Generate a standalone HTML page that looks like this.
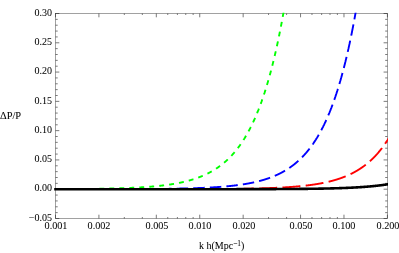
<!DOCTYPE html>
<html><head><meta charset="utf-8"><style>
html,body{margin:0;padding:0;background:#fff;}
body{width:399px;height:253px;position:relative;overflow:hidden;font-family:"Liberation Serif",serif;font-size:10.2px;color:#000;}
.yl{font-size:10px;position:absolute;right:347px;width:40px;text-align:right;height:14px;line-height:14px;white-space:nowrap;}
.xl{position:absolute;top:218.8px;font-size:10.2px;width:40px;text-align:center;height:14px;line-height:14px;}
.t{position:absolute;white-space:nowrap;line-height:14px;height:14px;}
.yl,.xl,.t{will-change:transform;transform:rotate(0.03deg);-webkit-text-stroke:0.05px #000;}
sup{font-size:7.4px;line-height:0;vertical-align:3.4px;}
#w{position:absolute;left:0;top:0;width:399px;height:253px;overflow:hidden;}
</style></head><body><div id="w">
<svg width="399" height="253" viewBox="0 0 399 253" style="position:absolute;left:0;top:0">
<defs><clipPath id="c"><rect x="40" y="12.7" width="348.0" height="206.4"/></clipPath></defs>
<rect x="55.5" y="13.5" width="331.9" height="205.0" fill="none" stroke="#444" stroke-width="0.5"/>
<path d="M55.5,218.50h3.8 M387.4,218.50h-3.8 M55.5,189.21h3.8 M387.4,189.21h-3.8 M55.5,159.93h3.8 M387.4,159.93h-3.8 M55.5,130.64h3.8 M387.4,130.64h-3.8 M55.5,101.36h3.8 M387.4,101.36h-3.8 M55.5,72.07h3.8 M387.4,72.07h-3.8 M55.5,42.79h3.8 M387.4,42.79h-3.8 M55.5,13.50h3.8 M387.4,13.50h-3.8 M55.5,212.64h2.2 M387.4,212.64h-2.2 M55.5,206.79h2.2 M387.4,206.79h-2.2 M55.5,200.93h2.2 M387.4,200.93h-2.2 M55.5,195.07h2.2 M387.4,195.07h-2.2 M55.5,183.36h2.2 M387.4,183.36h-2.2 M55.5,177.50h2.2 M387.4,177.50h-2.2 M55.5,171.64h2.2 M387.4,171.64h-2.2 M55.5,165.79h2.2 M387.4,165.79h-2.2 M55.5,154.07h2.2 M387.4,154.07h-2.2 M55.5,148.21h2.2 M387.4,148.21h-2.2 M55.5,142.36h2.2 M387.4,142.36h-2.2 M55.5,136.50h2.2 M387.4,136.50h-2.2 M55.5,124.79h2.2 M387.4,124.79h-2.2 M55.5,118.93h2.2 M387.4,118.93h-2.2 M55.5,113.07h2.2 M387.4,113.07h-2.2 M55.5,107.21h2.2 M387.4,107.21h-2.2 M55.5,95.50h2.2 M387.4,95.50h-2.2 M55.5,89.64h2.2 M387.4,89.64h-2.2 M55.5,83.79h2.2 M387.4,83.79h-2.2 M55.5,77.93h2.2 M387.4,77.93h-2.2 M55.5,66.21h2.2 M387.4,66.21h-2.2 M55.5,60.36h2.2 M387.4,60.36h-2.2 M55.5,54.50h2.2 M387.4,54.50h-2.2 M55.5,48.64h2.2 M387.4,48.64h-2.2 M55.5,36.93h2.2 M387.4,36.93h-2.2 M55.5,31.07h2.2 M387.4,31.07h-2.2 M55.5,25.21h2.2 M387.4,25.21h-2.2 M55.5,19.36h2.2 M387.4,19.36h-2.2 M55.50,218.5v-3.8 M55.50,13.5v3.8 M98.92,218.5v-3.8 M98.92,13.5v3.8 M156.32,218.5v-3.8 M156.32,13.5v3.8 M199.74,218.5v-3.8 M199.74,13.5v3.8 M243.16,218.5v-3.8 M243.16,13.5v3.8 M300.56,218.5v-3.8 M300.56,13.5v3.8 M343.98,218.5v-3.8 M343.98,13.5v3.8 M387.40,218.5v-3.8 M387.40,13.5v3.8 M124.32,218.5v-1.5 M124.32,13.5v1.5 M142.34,218.5v-1.5 M142.34,13.5v1.5 M167.74,218.5v-1.5 M167.74,13.5v1.5 M177.40,218.5v-1.5 M177.40,13.5v1.5 M185.76,218.5v-1.5 M185.76,13.5v1.5 M193.14,218.5v-1.5 M193.14,13.5v1.5 M268.56,218.5v-1.5 M268.56,13.5v1.5 M286.58,218.5v-1.5 M286.58,13.5v1.5 M311.98,218.5v-1.5 M311.98,13.5v1.5 M321.64,218.5v-1.5 M321.64,13.5v1.5 M330.00,218.5v-1.5 M330.00,13.5v1.5 M337.38,218.5v-1.5 M337.38,13.5v1.5" stroke="#222" stroke-width="0.6" fill="none"/>
<g clip-path="url(#c)" fill="none">
<path d="M96.38,188.76 L96.50,188.76 L96.61,188.76 L96.72,188.76 L96.83,188.76 L96.94,188.76 L97.05,188.76 L97.16,188.75 L97.27,188.75 L97.38,188.75 L97.50,188.75 L97.61,188.75 L97.72,188.75 L97.83,188.74 L97.94,188.74 L98.05,188.74 L98.16,188.74 L98.27,188.74 L98.38,188.74 L98.49,188.73 L98.61,188.73 L98.72,188.73 L98.83,188.73 L98.94,188.73 L99.05,188.72 L99.16,188.72 L99.27,188.72 L99.38,188.72 L99.49,188.72 L99.61,188.72 L99.72,188.71 L99.83,188.71 L99.94,188.71 L100.05,188.71 L100.16,188.71 L100.27,188.71 L100.38,188.70 L100.49,188.70 L100.61,188.70 L100.72,188.70 L100.83,188.70 L100.94,188.69 L101.05,188.69 L101.16,188.69 L101.27,188.69 L101.38,188.69 L101.49,188.69 L101.61,188.68 L101.72,188.68 L101.83,188.68 L101.94,188.68 L102.05,188.68 L102.16,188.67 L102.27,188.67 L102.38,188.67 L102.49,188.67 L102.61,188.67 L102.72,188.66 L102.83,188.66 L102.94,188.66 L103.05,188.66 L103.16,188.66 L103.27,188.65 L103.38,188.65 L103.49,188.65 L103.61,188.65 L103.72,188.65 L103.83,188.64 L103.94,188.64 L104.05,188.64 L104.16,188.64 L104.27,188.64 L104.38,188.63 L104.49,188.63 L104.61,188.63 L104.72,188.63 L104.83,188.63 L104.94,188.62 L105.05,188.62 L105.16,188.62 L105.27,188.62 L105.38,188.62 L105.49,188.61 L105.61,188.61 L105.72,188.61 L105.83,188.61 L105.94,188.60 L106.05,188.60 L106.16,188.60 L106.27,188.60 L106.38,188.60 L106.49,188.59 L106.61,188.59 L106.72,188.59 L106.83,188.59 L106.94,188.58 L107.05,188.58 L107.16,188.58 L107.27,188.58 L107.38,188.58 L107.49,188.57 L107.60,188.57 L107.72,188.57 L107.83,188.57 L107.94,188.56 L108.05,188.56 L108.16,188.56 L108.27,188.56 L108.38,188.56 L108.49,188.55 L108.60,188.55 L108.72,188.55 L108.83,188.55 L108.94,188.54 L109.05,188.54 L109.16,188.54 L109.27,188.54 L109.38,188.53 L109.49,188.53 L109.60,188.53 L109.72,188.53 L109.83,188.52 L109.94,188.52 L110.05,188.52 L110.16,188.52 L110.27,188.51 L110.38,188.51 L110.49,188.51 L110.60,188.51 L110.72,188.50 L110.83,188.50 L110.94,188.50 L111.05,188.50 L111.16,188.49 L111.27,188.49 L111.38,188.49 L111.49,188.49 L111.60,188.48 L111.72,188.48 L111.83,188.48 L111.94,188.48 L112.05,188.47 L112.16,188.47 L112.27,188.47 L112.38,188.47 L112.49,188.46 L112.60,188.46 L112.72,188.46 L112.83,188.45 L112.94,188.45 L113.05,188.45 L113.16,188.45 L113.27,188.44 L113.38,188.44 L113.49,188.44 L113.60,188.44 L113.72,188.43 L113.83,188.43 L113.94,188.43 L114.05,188.42 L114.16,188.42 L114.27,188.42 L114.38,188.42 L114.49,188.41 L114.60,188.41 L114.72,188.41 L114.83,188.40 L114.94,188.40 L115.05,188.40 L115.16,188.40 L115.27,188.39 L115.38,188.39 L115.49,188.39 L115.60,188.38 L115.72,188.38 L115.83,188.38 L115.94,188.38 L116.05,188.37 L116.16,188.37 L116.27,188.37 L116.38,188.36 L116.49,188.36 L116.60,188.36 L116.71,188.35 L116.83,188.35 L116.94,188.35 L117.05,188.34 L117.16,188.34 L117.27,188.34 L117.38,188.34 L117.49,188.33 L117.60,188.33 L117.71,188.33 L117.83,188.32 L117.94,188.32 L118.05,188.32 L118.16,188.31 L118.27,188.31 L118.38,188.31 L118.49,188.30 L118.60,188.30 L118.71,188.30 L118.83,188.29 L118.94,188.29 L119.05,188.29 L119.16,188.28 L119.27,188.28 L119.38,188.28 L119.49,188.27 L119.60,188.27 L119.71,188.27 L119.83,188.26 L119.94,188.26 L120.05,188.26 L120.16,188.25 L120.27,188.25 L120.38,188.25 L120.49,188.24 L120.60,188.24 L120.71,188.24 L120.83,188.23 L120.94,188.23 L121.05,188.23 L121.16,188.22 L121.27,188.22 L121.38,188.22 L121.49,188.21 L121.60,188.21 L121.71,188.21 L121.83,188.20 L121.94,188.20 L122.05,188.19 L122.16,188.19 L122.27,188.19 L122.38,188.18 L122.49,188.18 L122.60,188.18 L122.71,188.17 L122.83,188.17 L122.94,188.17 L123.05,188.16 L123.16,188.16 L123.27,188.15 L123.38,188.15 L123.49,188.15 L123.60,188.14 L123.71,188.14 L123.83,188.14 L123.94,188.13 L124.05,188.13 L124.16,188.12 L124.27,188.12 L124.38,188.12 L124.49,188.11 L124.60,188.11 L124.71,188.10 L124.83,188.10 L124.94,188.10 L125.05,188.09 L125.16,188.09 L125.27,188.08 L125.38,188.08 L125.49,188.08 L125.60,188.07 L125.71,188.07 L125.82,188.06 L125.94,188.06 L126.05,188.06 L126.16,188.05 L126.27,188.05 L126.38,188.04 L126.49,188.04 L126.60,188.03 L126.71,188.03 L126.82,188.03 L126.94,188.02 L127.05,188.02 L127.16,188.01 L127.27,188.01 L127.38,188.01 L127.49,188.00 L127.60,188.00 L127.71,187.99 L127.82,187.99 L127.94,187.98 L128.05,187.98 L128.16,187.97 L128.27,187.97 L128.38,187.97 L128.49,187.96 L128.60,187.96 L128.71,187.95 L128.82,187.95 L128.94,187.94 L129.05,187.94 L129.16,187.93 L129.27,187.93 L129.38,187.93 L129.49,187.92 L129.60,187.92 L129.71,187.91 L129.82,187.91 L129.94,187.90 L130.05,187.90 L130.16,187.89 L130.27,187.89 L130.38,187.88 L130.49,187.88 L130.60,187.87 L130.71,187.87 L130.82,187.86 L130.94,187.86 L131.05,187.86 L131.16,187.85 L131.27,187.85 L131.38,187.84 L131.49,187.84 L131.60,187.83 L131.71,187.83 L131.82,187.82 L131.94,187.82 L132.05,187.81 L132.16,187.81 L132.27,187.80 L132.38,187.80 L132.49,187.79 L132.60,187.79 L132.71,187.78 L132.82,187.78 L132.94,187.77 L133.05,187.77 L133.16,187.76 L133.27,187.76 L133.38,187.75 L133.49,187.74 L133.60,187.74 L133.71,187.73 L133.82,187.73 L133.94,187.72 L134.05,187.72 L134.16,187.71 L134.27,187.71 L134.38,187.70 L134.49,187.70 L134.60,187.69 L134.71,187.69 L134.82,187.68 L134.94,187.68 L135.05,187.67 L135.16,187.66 L135.27,187.66 L135.38,187.65 L135.49,187.65 L135.60,187.64 L135.71,187.64 L135.82,187.63 L135.93,187.63 L136.05,187.62 L136.16,187.61 L136.27,187.61 L136.38,187.60 L136.49,187.60 L136.60,187.59 L136.71,187.59 L136.82,187.58 L136.93,187.57 L137.05,187.57 L137.16,187.56 L137.27,187.56 L137.38,187.55 L137.49,187.54 L137.60,187.54 L137.71,187.53 L137.82,187.53 L137.93,187.52 L138.05,187.51 L138.16,187.51 L138.27,187.50 L138.38,187.50 L138.49,187.49 L138.60,187.48 L138.71,187.48 L138.82,187.47 L138.93,187.47 L139.05,187.46 L139.16,187.45 L139.27,187.45 L139.38,187.44 L139.49,187.43 L139.60,187.43 L139.71,187.42 L139.82,187.42 L139.93,187.41 L140.05,187.40 L140.16,187.40 L140.27,187.39 L140.38,187.38 L140.49,187.38 L140.60,187.37 L140.71,187.36 L140.82,187.36 L140.93,187.35 L141.05,187.34 L141.16,187.34 L141.27,187.33 L141.38,187.32 L141.49,187.32 L141.60,187.31 L141.71,187.30 L141.82,187.30 L141.93,187.29 L142.05,187.28 L142.16,187.28 L142.27,187.27 L142.38,187.26 L142.49,187.26 L142.60,187.25 L142.71,187.24 L142.82,187.23 L142.93,187.23 L143.05,187.22 L143.16,187.21 L143.27,187.21 L143.38,187.20 L143.49,187.19 L143.60,187.19 L143.71,187.18 L143.82,187.17 L143.93,187.16 L144.05,187.16 L144.16,187.15 L144.27,187.14 L144.38,187.13 L144.49,187.13 L144.60,187.12 L144.71,187.11 L144.82,187.10 L144.93,187.10 L145.04,187.09 L145.16,187.08 L145.27,187.07 L145.38,187.07 L145.49,187.06 L145.60,187.05 L145.71,187.04 L145.82,187.04 L145.93,187.03 L146.04,187.02 L146.16,187.01 L146.27,187.00 L146.38,187.00 L146.49,186.99 L146.60,186.98 L146.71,186.97 L146.82,186.97 L146.93,186.96 L147.04,186.95 L147.16,186.94 L147.27,186.93 L147.38,186.92 L147.49,186.92 L147.60,186.91 L147.71,186.90 L147.82,186.89 L147.93,186.88 L148.04,186.88 L148.16,186.87 L148.27,186.86 L148.38,186.85 L148.49,186.84 L148.60,186.83 L148.71,186.83 L148.82,186.82 L148.93,186.81 L149.04,186.80 L149.16,186.79 L149.27,186.78 L149.38,186.77 L149.49,186.77 L149.60,186.76 L149.71,186.75 L149.82,186.74 L149.93,186.73 L150.04,186.72 L150.16,186.71 L150.27,186.70 L150.38,186.69 L150.49,186.69 L150.60,186.68 L150.71,186.67 L150.82,186.66 L150.93,186.65 L151.04,186.64 L151.16,186.63 L151.27,186.62 L151.38,186.61 L151.49,186.60 L151.60,186.59 L151.71,186.59 L151.82,186.58 L151.93,186.57 L152.04,186.56 L152.16,186.55 L152.27,186.54 L152.38,186.53 L152.49,186.52 L152.60,186.51 L152.71,186.50 L152.82,186.49 L152.93,186.48 L153.04,186.47 L153.16,186.46 L153.27,186.45 L153.38,186.44 L153.49,186.43 L153.60,186.42 L153.71,186.41 L153.82,186.40 L153.93,186.39 L154.04,186.38 L154.15,186.37 L154.27,186.36 L154.38,186.35 L154.49,186.34 L154.60,186.33 L154.71,186.32 L154.82,186.31 L154.93,186.30 L155.04,186.29 L155.15,186.28 L155.27,186.27 L155.38,186.26 L155.49,186.25 L155.60,186.24 L155.71,186.23 L155.82,186.22 L155.93,186.21 L156.04,186.20 L156.15,186.18 L156.27,186.17 L156.38,186.16 L156.49,186.15 L156.60,186.14 L156.71,186.13 L156.82,186.12 L156.93,186.11 L157.04,186.10 L157.15,186.09 L157.27,186.08 L157.38,186.06 L157.49,186.05 L157.60,186.04 L157.71,186.03 L157.82,186.02 L157.93,186.01 L158.04,186.00 L158.15,185.98 L158.27,185.97 L158.38,185.96 L158.49,185.95 L158.60,185.94 L158.71,185.93 L158.82,185.92 L158.93,185.90 L159.04,185.89 L159.15,185.88 L159.27,185.87 L159.38,185.86 L159.49,185.84 L159.60,185.83 L159.71,185.82 L159.82,185.81 L159.93,185.80 L160.04,185.78 L160.15,185.77 L160.27,185.76 L160.38,185.75 L160.49,185.74 L160.60,185.72 L160.71,185.71 L160.82,185.70 L160.93,185.69 L161.04,185.67 L161.15,185.66 L161.27,185.65 L161.38,185.63 L161.49,185.62 L161.60,185.61 L161.71,185.60 L161.82,185.58 L161.93,185.57 L162.04,185.56 L162.15,185.54 L162.27,185.53 L162.38,185.52 L162.49,185.51 L162.60,185.49 L162.71,185.48 L162.82,185.47 L162.93,185.45 L163.04,185.44 L163.15,185.43 L163.27,185.41 L163.38,185.40 L163.49,185.39 L163.60,185.37 L163.71,185.36 L163.82,185.34 L163.93,185.33 L164.04,185.32 L164.15,185.30 L164.26,185.29 L164.38,185.28 L164.49,185.26 L164.60,185.25 L164.71,185.23 L164.82,185.22 L164.93,185.20 L165.04,185.19 L165.15,185.18 L165.26,185.16 L165.38,185.15 L165.49,185.13 L165.60,185.12 L165.71,185.10 L165.82,185.09 L165.93,185.07 L166.04,185.06 L166.15,185.05 L166.26,185.03 L166.38,185.02 L166.49,185.00 L166.60,184.99 L166.71,184.97 L166.82,184.96 L166.93,184.94 L167.04,184.93 L167.15,184.91 L167.26,184.89 L167.38,184.88 L167.49,184.86 L167.60,184.85 L167.71,184.83 L167.82,184.82 L167.93,184.80 L168.04,184.79 L168.15,184.77 L168.26,184.75 L168.38,184.74 L168.49,184.72 L168.60,184.71 L168.71,184.69 L168.82,184.67 L168.93,184.66 L169.04,184.64 L169.15,184.63 L169.26,184.61 L169.38,184.59 L169.49,184.58 L169.60,184.56 L169.71,184.54 L169.82,184.53 L169.93,184.51 L170.04,184.49 L170.15,184.48 L170.26,184.46 L170.38,184.44 L170.49,184.43 L170.60,184.41 L170.71,184.39 L170.82,184.38 L170.93,184.36 L171.04,184.34 L171.15,184.32 L171.26,184.31 L171.38,184.29 L171.49,184.27 L171.60,184.25 L171.71,184.24 L171.82,184.22 L171.93,184.20 L172.04,184.18 L172.15,184.16 L172.26,184.15 L172.38,184.13 L172.49,184.11 L172.60,184.09 L172.71,184.07 L172.82,184.06 L172.93,184.04 L173.04,184.02 L173.15,184.00 L173.26,183.98 L173.37,183.96 L173.49,183.95 L173.60,183.93 L173.71,183.91 L173.82,183.89 L173.93,183.87 L174.04,183.85 L174.15,183.83 L174.26,183.81 L174.37,183.79 L174.49,183.77 L174.60,183.76 L174.71,183.74 L174.82,183.72 L174.93,183.70 L175.04,183.68 L175.15,183.66 L175.26,183.64 L175.37,183.62 L175.49,183.60 L175.60,183.58 L175.71,183.56 L175.82,183.54 L175.93,183.52 L176.04,183.50 L176.15,183.48 L176.26,183.46 L176.37,183.44 L176.49,183.42 L176.60,183.40 L176.71,183.37 L176.82,183.35 L176.93,183.33 L177.04,183.31 L177.15,183.29 L177.26,183.27 L177.37,183.25 L177.49,183.23 L177.60,183.21 L177.71,183.19 L177.82,183.16 L177.93,183.14 L178.04,183.12 L178.15,183.10 L178.26,183.08 L178.37,183.06 L178.49,183.03 L178.60,183.01 L178.71,182.99 L178.82,182.97 L178.93,182.95 L179.04,182.92 L179.15,182.90 L179.26,182.88 L179.37,182.86 L179.49,182.83 L179.60,182.81 L179.71,182.79 L179.82,182.76 L179.93,182.74 L180.04,182.72 L180.15,182.70 L180.26,182.67 L180.37,182.65 L180.49,182.63 L180.60,182.60 L180.71,182.58 L180.82,182.56 L180.93,182.53 L181.04,182.51 L181.15,182.48 L181.26,182.46 L181.37,182.44 L181.49,182.41 L181.60,182.39 L181.71,182.36 L181.82,182.34 L181.93,182.32 L182.04,182.29 L182.15,182.27 L182.26,182.24 L182.37,182.22 L182.48,182.19 L182.60,182.17 L182.71,182.14 L182.82,182.12 L182.93,182.09 L183.04,182.07 L183.15,182.04 L183.26,182.02 L183.37,181.99 L183.48,181.96 L183.60,181.94 L183.71,181.91 L183.82,181.89 L183.93,181.86 L184.04,181.83 L184.15,181.81 L184.26,181.78 L184.37,181.76 L184.48,181.73 L184.60,181.70 L184.71,181.68 L184.82,181.65 L184.93,181.62 L185.04,181.59 L185.15,181.57 L185.26,181.54 L185.37,181.51 L185.48,181.49 L185.60,181.46 L185.71,181.43 L185.82,181.40 L185.93,181.38 L186.04,181.35 L186.15,181.32 L186.26,181.29 L186.37,181.26 L186.48,181.24 L186.60,181.21 L186.71,181.18 L186.82,181.15 L186.93,181.12 L187.04,181.09 L187.15,181.06 L187.26,181.03 L187.37,181.01 L187.48,180.98 L187.60,180.95 L187.71,180.92 L187.82,180.89 L187.93,180.86 L188.04,180.83 L188.15,180.80 L188.26,180.77 L188.37,180.74 L188.48,180.71 L188.60,180.68 L188.71,180.65 L188.82,180.62 L188.93,180.59 L189.04,180.56 L189.15,180.53 L189.26,180.50 L189.37,180.46 L189.48,180.43 L189.60,180.40 L189.71,180.37 L189.82,180.34 L189.93,180.31 L190.04,180.28 L190.15,180.24 L190.26,180.21 L190.37,180.18 L190.48,180.15 L190.60,180.12 L190.71,180.08 L190.82,180.05 L190.93,180.02 L191.04,179.99 L191.15,179.95 L191.26,179.92 L191.37,179.89 L191.48,179.85 L191.59,179.82 L191.71,179.79 L191.82,179.75 L191.93,179.72 L192.04,179.69 L192.15,179.65 L192.26,179.62 L192.37,179.58 L192.48,179.55 L192.59,179.52 L192.71,179.48 L192.82,179.45 L192.93,179.41 L193.04,179.38 L193.15,179.34 L193.26,179.31 L193.37,179.27 L193.48,179.24 L193.59,179.20 L193.71,179.17 L193.82,179.13 L193.93,179.09 L194.04,179.06 L194.15,179.02 L194.26,178.99 L194.37,178.95 L194.48,178.91 L194.59,178.88 L194.71,178.84 L194.82,178.80 L194.93,178.77 L195.04,178.73 L195.15,178.69 L195.26,178.65 L195.37,178.62 L195.48,178.58 L195.59,178.54 L195.71,178.50 L195.82,178.47 L195.93,178.43 L196.04,178.39 L196.15,178.35 L196.26,178.31 L196.37,178.27 L196.48,178.23 L196.59,178.20 L196.71,178.16 L196.82,178.12 L196.93,178.08 L197.04,178.04 L197.15,178.00 L197.26,177.96 L197.37,177.92 L197.48,177.88 L197.59,177.84 L197.71,177.80 L197.82,177.76 L197.93,177.72 L198.04,177.68 L198.15,177.63 L198.26,177.59 L198.37,177.55 L198.48,177.51 L198.59,177.47 L198.71,177.43 L198.82,177.39 L198.93,177.34 L199.04,177.30 L199.15,177.26 L199.26,177.22 L199.37,177.17 L199.48,177.13 L199.59,177.09 L199.71,177.04 L199.82,177.00 L199.93,176.96 L200.04,176.91 L200.15,176.87 L200.26,176.83 L200.37,176.78 L200.48,176.74 L200.59,176.69 L200.71,176.65 L200.82,176.61 L200.93,176.56 L201.04,176.52 L201.15,176.47 L201.26,176.43 L201.37,176.38 L201.48,176.33 L201.59,176.29 L201.70,176.24 L201.82,176.20 L201.93,176.15 L202.04,176.10 L202.15,176.06 L202.26,176.01 L202.37,175.96 L202.48,175.92 L202.59,175.87 L202.70,175.82 L202.82,175.77 L202.93,175.73 L203.04,175.68 L203.15,175.63 L203.26,175.58 L203.37,175.53 L203.48,175.49 L203.59,175.44 L203.70,175.39 L203.82,175.34 L203.93,175.29 L204.04,175.24 L204.15,175.19 L204.26,175.14 L204.37,175.09 L204.48,175.04 L204.59,174.99 L204.70,174.94 L204.82,174.89 L204.93,174.84 L205.04,174.79 L205.15,174.73 L205.26,174.68 L205.37,174.63 L205.48,174.58 L205.59,174.53 L205.70,174.48 L205.82,174.42 L205.93,174.37 L206.04,174.32 L206.15,174.27 L206.26,174.21 L206.37,174.16 L206.48,174.11 L206.59,174.05 L206.70,174.00 L206.82,173.94 L206.93,173.89 L207.04,173.83 L207.15,173.78 L207.26,173.73 L207.37,173.67 L207.48,173.62 L207.59,173.56 L207.70,173.50 L207.82,173.45 L207.93,173.39 L208.04,173.34 L208.15,173.28 L208.26,173.22 L208.37,173.17 L208.48,173.11 L208.59,173.05 L208.70,172.99 L208.82,172.94 L208.93,172.88 L209.04,172.82 L209.15,172.76 L209.26,172.70 L209.37,172.65 L209.48,172.59 L209.59,172.53 L209.70,172.47 L209.82,172.41 L209.93,172.35 L210.04,172.29 L210.15,172.23 L210.26,172.17 L210.37,172.11 L210.48,172.05 L210.59,171.99 L210.70,171.93 L210.81,171.86 L210.93,171.80 L211.04,171.74 L211.15,171.68 L211.26,171.62 L211.37,171.55 L211.48,171.49 L211.59,171.43 L211.70,171.36 L211.81,171.30 L211.93,171.24 L212.04,171.17 L212.15,171.11 L212.26,171.04 L212.37,170.98 L212.48,170.92 L212.59,170.85 L212.70,170.79 L212.81,170.72 L212.93,170.65 L213.04,170.59 L213.15,170.52 L213.26,170.46 L213.37,170.39 L213.48,170.32 L213.59,170.25 L213.70,170.19 L213.81,170.12 L213.93,170.05 L214.04,169.98 L214.15,169.92 L214.26,169.85 L214.37,169.78 L214.48,169.71 L214.59,169.64 L214.70,169.57 L214.81,169.50 L214.93,169.43 L215.04,169.36 L215.15,169.29 L215.26,169.22 L215.37,169.15 L215.48,169.08 L215.59,169.00 L215.70,168.93 L215.81,168.86 L215.93,168.79 L216.04,168.72 L216.15,168.64 L216.26,168.57 L216.37,168.50 L216.48,168.42 L216.59,168.35 L216.70,168.28 L216.81,168.20 L216.93,168.13 L217.04,168.05 L217.15,167.98 L217.26,167.90 L217.37,167.82 L217.48,167.75 L217.59,167.67 L217.70,167.60 L217.81,167.52 L217.93,167.44 L218.04,167.36 L218.15,167.29 L218.26,167.21 L218.37,167.13 L218.48,167.05 L218.59,166.97 L218.70,166.89 L218.81,166.82 L218.93,166.74 L219.04,166.66 L219.15,166.58 L219.26,166.50 L219.37,166.41 L219.48,166.33 L219.59,166.25 L219.70,166.17 L219.81,166.09 L219.92,166.01 L220.04,165.92 L220.15,165.84 L220.26,165.76 L220.37,165.67 L220.48,165.59 L220.59,165.51 L220.70,165.42 L220.81,165.34 L220.92,165.25 L221.04,165.17 L221.15,165.08 L221.26,165.00 L221.37,164.91 L221.48,164.82 L221.59,164.74 L221.70,164.65 L221.81,164.56 L221.92,164.48 L222.04,164.39 L222.15,164.30 L222.26,164.21 L222.37,164.12 L222.48,164.03 L222.59,163.94 L222.70,163.85 L222.81,163.76 L222.92,163.67 L223.04,163.58 L223.15,163.49 L223.26,163.40 L223.37,163.31 L223.48,163.22 L223.59,163.12 L223.70,163.03 L223.81,162.94 L223.92,162.85 L224.04,162.75 L224.15,162.66 L224.26,162.56 L224.37,162.47 L224.48,162.37 L224.59,162.28 L224.70,162.18 L224.81,162.09 L224.92,161.99 L225.04,161.89 L225.15,161.80 L225.26,161.70 L225.37,161.60 L225.48,161.50 L225.59,161.40 L225.70,161.31 L225.81,161.21 L225.92,161.11 L226.04,161.01 L226.15,160.91 L226.26,160.81 L226.37,160.71 L226.48,160.60 L226.59,160.50 L226.70,160.40 L226.81,160.30 L226.92,160.20 L227.04,160.09 L227.15,159.99 L227.26,159.88 L227.37,159.78 L227.48,159.68 L227.59,159.57 L227.70,159.47 L227.81,159.36 L227.92,159.25 L228.04,159.15 L228.15,159.04 L228.26,158.93 L228.37,158.83 L228.48,158.72 L228.59,158.61 L228.70,158.50 L228.81,158.39 L228.92,158.28 L229.03,158.17 L229.15,158.06 L229.26,157.95 L229.37,157.84 L229.48,157.73 L229.59,157.62 L229.70,157.50 L229.81,157.39 L229.92,157.28 L230.03,157.17 L230.15,157.05 L230.26,156.94 L230.37,156.82 L230.48,156.71 L230.59,156.59 L230.70,156.48 L230.81,156.36 L230.92,156.24 L231.03,156.13 L231.15,156.01 L231.26,155.89 L231.37,155.77 L231.48,155.65 L231.59,155.53 L231.70,155.41 L231.81,155.29 L231.92,155.17 L232.03,155.05 L232.15,154.93 L232.26,154.81 L232.37,154.69 L232.48,154.56 L232.59,154.44 L232.70,154.32 L232.81,154.19 L232.92,154.07 L233.03,153.94 L233.15,153.82 L233.26,153.69 L233.37,153.57 L233.48,153.44 L233.59,153.31 L233.70,153.19 L233.81,153.06 L233.92,152.93 L234.03,152.80 L234.15,152.67 L234.26,152.54 L234.37,152.41 L234.48,152.28 L234.59,152.15 L234.70,152.02 L234.81,151.88 L234.92,151.75 L235.03,151.62 L235.15,151.49 L235.26,151.35 L235.37,151.22 L235.48,151.08 L235.59,150.95 L235.70,150.81 L235.81,150.67 L235.92,150.54 L236.03,150.40 L236.15,150.26 L236.26,150.12 L236.37,149.98 L236.48,149.84 L236.59,149.70 L236.70,149.56 L236.81,149.42 L236.92,149.28 L237.03,149.14 L237.15,149.00 L237.26,148.85 L237.37,148.71 L237.48,148.57 L237.59,148.42 L237.70,148.28 L237.81,148.13 L237.92,147.99 L238.03,147.84 L238.15,147.69 L238.26,147.55 L238.37,147.40 L238.48,147.25 L238.59,147.10 L238.70,146.95 L238.81,146.80 L238.92,146.65 L239.03,146.50 L239.14,146.35 L239.26,146.19 L239.37,146.04 L239.48,145.89 L239.59,145.73 L239.70,145.58 L239.81,145.42 L239.92,145.27 L240.03,145.11 L240.14,144.96 L240.26,144.80 L240.37,144.64 L240.48,144.48 L240.59,144.32 L240.70,144.16 L240.81,144.00 L240.92,143.84 L241.03,143.68 L241.14,143.52 L241.26,143.36 L241.37,143.19 L241.48,143.03 L241.59,142.87 L241.70,142.70 L241.81,142.54 L241.92,142.37 L242.03,142.20 L242.14,142.04 L242.26,141.87 L242.37,141.70 L242.48,141.53 L242.59,141.36 L242.70,141.19 L242.81,141.02 L242.92,140.85 L243.03,140.68 L243.14,140.51 L243.26,140.33 L243.37,140.16 L243.48,139.99 L243.59,139.81 L243.70,139.64 L243.81,139.46 L243.92,139.28 L244.03,139.11 L244.14,138.93 L244.26,138.75 L244.37,138.57 L244.48,138.39 L244.59,138.21 L244.70,138.03 L244.81,137.85 L244.92,137.66 L245.03,137.48 L245.14,137.30 L245.26,137.11 L245.37,136.93 L245.48,136.74 L245.59,136.55 L245.70,136.37 L245.81,136.18 L245.92,135.99 L246.03,135.80 L246.14,135.61 L246.26,135.42 L246.37,135.23 L246.48,135.04 L246.59,134.85 L246.70,134.65 L246.81,134.46 L246.92,134.26 L247.03,134.07 L247.14,133.87 L247.26,133.68 L247.37,133.48 L247.48,133.28 L247.59,133.08 L247.70,132.88 L247.81,132.68 L247.92,132.48 L248.03,132.28 L248.14,132.08 L248.25,131.88 L248.37,131.67 L248.48,131.47 L248.59,131.26 L248.70,131.06 L248.81,130.85 L248.92,130.64 L249.03,130.43 L249.14,130.22 L249.25,130.02 L249.37,129.80 L249.48,129.59 L249.59,129.38 L249.70,129.17 L249.81,128.96 L249.92,128.74 L250.03,128.53 L250.14,128.31 L250.25,128.09 L250.37,127.88 L250.48,127.66 L250.59,127.44 L250.70,127.22 L250.81,127.00 L250.92,126.78 L251.03,126.56 L251.14,126.34 L251.25,126.11 L251.37,125.89 L251.48,125.66 L251.59,125.44 L251.70,125.21 L251.81,124.98 L251.92,124.75 L252.03,124.53 L252.14,124.30 L252.25,124.07 L252.37,123.83 L252.48,123.60 L252.59,123.37 L252.70,123.13 L252.81,122.90 L252.92,122.66 L253.03,122.43 L253.14,122.19 L253.25,121.95 L253.37,121.71 L253.48,121.47 L253.59,121.23 L253.70,120.99 L253.81,120.75 L253.92,120.51 L254.03,120.26 L254.14,120.02 L254.25,119.77 L254.37,119.52 L254.48,119.28 L254.59,119.03 L254.70,118.78 L254.81,118.53 L254.92,118.28 L255.03,118.02 L255.14,117.77 L255.25,117.52 L255.37,117.26 L255.48,117.01 L255.59,116.75 L255.70,116.49 L255.81,116.23 L255.92,115.98 L256.03,115.71 L256.14,115.45 L256.25,115.19 L256.37,114.93 L256.48,114.66 L256.59,114.40 L256.70,114.13 L256.81,113.87 L256.92,113.60 L257.03,113.33 L257.14,113.06 L257.25,112.79 L257.36,112.52 L257.48,112.25 L257.59,111.97 L257.70,111.70 L257.81,111.42 L257.92,111.15 L258.03,110.87 L258.14,110.59 L258.25,110.31 L258.36,110.03 L258.48,109.75 L258.59,109.47 L258.70,109.18 L258.81,108.90 L258.92,108.61 L259.03,108.33 L259.14,108.04 L259.25,107.75 L259.36,107.46 L259.48,107.17 L259.59,106.88 L259.70,106.59 L259.81,106.29 L259.92,106.00 L260.03,105.70 L260.14,105.41 L260.25,105.11 L260.36,104.81 L260.48,104.51 L260.59,104.21 L260.70,103.91 L260.81,103.60 L260.92,103.30 L261.03,103.00 L261.14,102.69 L261.25,102.38 L261.36,102.07 L261.48,101.76 L261.59,101.45 L261.70,101.14 L261.81,100.83 L261.92,100.51 L262.03,100.20 L262.14,99.88 L262.25,99.56 L262.36,99.25 L262.48,98.93 L262.59,98.61 L262.70,98.28 L262.81,97.96 L262.92,97.64 L263.03,97.31 L263.14,96.98 L263.25,96.66 L263.36,96.33 L263.48,96.00 L263.59,95.67 L263.70,95.33 L263.81,95.00 L263.92,94.67 L264.03,94.33 L264.14,93.99 L264.25,93.65 L264.36,93.31 L264.48,92.97 L264.59,92.63 L264.70,92.29 L264.81,91.94 L264.92,91.60 L265.03,91.25 L265.14,90.90 L265.25,90.55 L265.36,90.20 L265.48,89.85 L265.59,89.50 L265.70,89.14 L265.81,88.79 L265.92,88.43 L266.03,88.07 L266.14,87.71 L266.25,87.35 L266.36,86.99 L266.47,86.63 L266.59,86.26 L266.70,85.90 L266.81,85.53 L266.92,85.16 L267.03,84.79 L267.14,84.42 L267.25,84.05 L267.36,83.68 L267.47,83.30 L267.59,82.92 L267.70,82.55 L267.81,82.17 L267.92,81.79 L268.03,81.41 L268.14,81.02 L268.25,80.64 L268.36,80.25 L268.47,79.87 L268.59,79.48 L268.70,79.09 L268.81,78.70 L268.92,78.30 L269.03,77.91 L269.14,77.51 L269.25,77.12 L269.36,76.72 L269.47,76.32 L269.59,75.92 L269.70,75.51 L269.81,75.11 L269.92,74.70 L270.03,74.30 L270.14,73.89 L270.25,73.48 L270.36,73.07 L270.47,72.66 L270.59,72.24 L270.70,71.83 L270.81,71.41 L270.92,70.99 L271.03,70.57 L271.14,70.15 L271.25,69.73 L271.36,69.30 L271.47,68.87 L271.59,68.45 L271.70,68.02 L271.81,67.59 L271.92,67.16 L272.03,66.72 L272.14,66.29 L272.25,65.85 L272.36,65.41 L272.47,64.97 L272.59,64.53 L272.70,64.09 L272.81,63.64 L272.92,63.20 L273.03,62.75 L273.14,62.30 L273.25,61.85 L273.36,61.40 L273.47,60.94 L273.59,60.49 L273.70,60.03 L273.81,59.57 L273.92,59.11 L274.03,58.65 L274.14,58.18 L274.25,57.72 L274.36,57.25 L274.47,56.78 L274.59,56.31 L274.70,55.84 L274.81,55.36 L274.92,54.89 L275.03,54.41 L275.14,53.93 L275.25,53.45 L275.36,52.97 L275.47,52.48 L275.59,52.00 L275.70,51.51 L275.81,51.02 L275.92,50.53 L276.03,50.04 L276.14,49.54 L276.25,49.05 L276.36,48.55 L276.47,48.05 L276.58,47.55 L276.70,47.04 L276.81,46.54 L276.92,46.03 L277.03,45.52 L277.14,45.01 L277.25,44.50 L277.36,43.99 L277.47,43.47 L277.58,42.95 L277.70,42.43 L277.81,41.91 L277.92,41.39 L278.03,40.86 L278.14,40.33 L278.25,39.81 L278.36,39.27 L278.47,38.74 L278.58,38.21 L278.70,37.67 L278.81,37.13 L278.92,36.59 L279.03,36.05 L279.14,35.51 L279.25,34.96 L279.36,34.41 L279.47,33.86 L279.58,33.31 L279.70,32.75 L279.81,32.20 L279.92,31.64 L280.03,31.08 L280.14,30.52 L280.25,29.96 L280.36,29.39 L280.47,28.82 L280.58,28.25 L280.70,27.68 L280.81,27.11 L280.92,26.53 L281.03,25.95 L281.14,25.37 L281.25,24.79 L281.36,24.20 L281.47,23.62 L281.58,23.03 L281.70,22.44 L281.81,21.85 L281.92,21.25 L282.03,20.66 L282.14,20.06 L282.25,19.46 L282.36,18.85 L282.47,18.25 L282.58,17.64 L282.70,17.03 L282.81,16.42 L282.92,15.80 L283.03,15.19 L283.14,14.57 L283.25,13.95 L283.36,13.33 L283.47,12.70 L283.58,12.07 L283.70,11.44 L283.81,10.81 L283.92,10.18 L284.03,9.54 L284.14,8.90 L284.25,8.26 L284.36,7.62" stroke="#00ff00" stroke-width="1.9" stroke-dasharray="4.9 5.1" stroke-dashoffset="7.00"/>
<path d="M168.82,188.76 L168.93,188.76 L169.04,188.76 L169.15,188.76 L169.26,188.75 L169.38,188.75 L169.49,188.75 L169.60,188.75 L169.71,188.75 L169.82,188.75 L169.93,188.74 L170.04,188.74 L170.15,188.74 L170.26,188.74 L170.38,188.74 L170.49,188.74 L170.60,188.73 L170.71,188.73 L170.82,188.73 L170.93,188.73 L171.04,188.73 L171.15,188.73 L171.26,188.72 L171.38,188.72 L171.49,188.72 L171.60,188.72 L171.71,188.72 L171.82,188.71 L171.93,188.71 L172.04,188.71 L172.15,188.71 L172.26,188.71 L172.38,188.71 L172.49,188.70 L172.60,188.70 L172.71,188.70 L172.82,188.70 L172.93,188.70 L173.04,188.69 L173.15,188.69 L173.26,188.69 L173.37,188.69 L173.49,188.69 L173.60,188.69 L173.71,188.68 L173.82,188.68 L173.93,188.68 L174.04,188.68 L174.15,188.68 L174.26,188.67 L174.37,188.67 L174.49,188.67 L174.60,188.67 L174.71,188.67 L174.82,188.66 L174.93,188.66 L175.04,188.66 L175.15,188.66 L175.26,188.66 L175.37,188.65 L175.49,188.65 L175.60,188.65 L175.71,188.65 L175.82,188.65 L175.93,188.64 L176.04,188.64 L176.15,188.64 L176.26,188.64 L176.37,188.64 L176.49,188.63 L176.60,188.63 L176.71,188.63 L176.82,188.63 L176.93,188.63 L177.04,188.62 L177.15,188.62 L177.26,188.62 L177.37,188.62 L177.49,188.62 L177.60,188.61 L177.71,188.61 L177.82,188.61 L177.93,188.61 L178.04,188.60 L178.15,188.60 L178.26,188.60 L178.37,188.60 L178.49,188.60 L178.60,188.59 L178.71,188.59 L178.82,188.59 L178.93,188.59 L179.04,188.59 L179.15,188.58 L179.26,188.58 L179.37,188.58 L179.49,188.58 L179.60,188.57 L179.71,188.57 L179.82,188.57 L179.93,188.57 L180.04,188.56 L180.15,188.56 L180.26,188.56 L180.37,188.56 L180.49,188.56 L180.60,188.55 L180.71,188.55 L180.82,188.55 L180.93,188.55 L181.04,188.54 L181.15,188.54 L181.26,188.54 L181.37,188.54 L181.49,188.53 L181.60,188.53 L181.71,188.53 L181.82,188.53 L181.93,188.52 L182.04,188.52 L182.15,188.52 L182.26,188.52 L182.37,188.51 L182.48,188.51 L182.60,188.51 L182.71,188.51 L182.82,188.50 L182.93,188.50 L183.04,188.50 L183.15,188.50 L183.26,188.49 L183.37,188.49 L183.48,188.49 L183.60,188.49 L183.71,188.48 L183.82,188.48 L183.93,188.48 L184.04,188.48 L184.15,188.47 L184.26,188.47 L184.37,188.47 L184.48,188.47 L184.60,188.46 L184.71,188.46 L184.82,188.46 L184.93,188.46 L185.04,188.45 L185.15,188.45 L185.26,188.45 L185.37,188.44 L185.48,188.44 L185.60,188.44 L185.71,188.44 L185.82,188.43 L185.93,188.43 L186.04,188.43 L186.15,188.42 L186.26,188.42 L186.37,188.42 L186.48,188.42 L186.60,188.41 L186.71,188.41 L186.82,188.41 L186.93,188.40 L187.04,188.40 L187.15,188.40 L187.26,188.40 L187.37,188.39 L187.48,188.39 L187.60,188.39 L187.71,188.38 L187.82,188.38 L187.93,188.38 L188.04,188.38 L188.15,188.37 L188.26,188.37 L188.37,188.37 L188.48,188.36 L188.60,188.36 L188.71,188.36 L188.82,188.35 L188.93,188.35 L189.04,188.35 L189.15,188.35 L189.26,188.34 L189.37,188.34 L189.48,188.34 L189.60,188.33 L189.71,188.33 L189.82,188.33 L189.93,188.32 L190.04,188.32 L190.15,188.32 L190.26,188.31 L190.37,188.31 L190.48,188.31 L190.60,188.30 L190.71,188.30 L190.82,188.30 L190.93,188.29 L191.04,188.29 L191.15,188.29 L191.26,188.28 L191.37,188.28 L191.48,188.28 L191.59,188.27 L191.71,188.27 L191.82,188.27 L191.93,188.26 L192.04,188.26 L192.15,188.26 L192.26,188.25 L192.37,188.25 L192.48,188.25 L192.59,188.24 L192.71,188.24 L192.82,188.24 L192.93,188.23 L193.04,188.23 L193.15,188.23 L193.26,188.22 L193.37,188.22 L193.48,188.22 L193.59,188.21 L193.71,188.21 L193.82,188.21 L193.93,188.20 L194.04,188.20 L194.15,188.20 L194.26,188.19 L194.37,188.19 L194.48,188.18 L194.59,188.18 L194.71,188.18 L194.82,188.17 L194.93,188.17 L195.04,188.17 L195.15,188.16 L195.26,188.16 L195.37,188.15 L195.48,188.15 L195.59,188.15 L195.71,188.14 L195.82,188.14 L195.93,188.14 L196.04,188.13 L196.15,188.13 L196.26,188.12 L196.37,188.12 L196.48,188.12 L196.59,188.11 L196.71,188.11 L196.82,188.10 L196.93,188.10 L197.04,188.10 L197.15,188.09 L197.26,188.09 L197.37,188.08 L197.48,188.08 L197.59,188.08 L197.71,188.07 L197.82,188.07 L197.93,188.06 L198.04,188.06 L198.15,188.06 L198.26,188.05 L198.37,188.05 L198.48,188.04 L198.59,188.04 L198.71,188.04 L198.82,188.03 L198.93,188.03 L199.04,188.02 L199.15,188.02 L199.26,188.01 L199.37,188.01 L199.48,188.01 L199.59,188.00 L199.71,188.00 L199.82,187.99 L199.93,187.99 L200.04,187.98 L200.15,187.98 L200.26,187.98 L200.37,187.97 L200.48,187.97 L200.59,187.96 L200.71,187.96 L200.82,187.95 L200.93,187.95 L201.04,187.94 L201.15,187.94 L201.26,187.94 L201.37,187.93 L201.48,187.93 L201.59,187.92 L201.70,187.92 L201.82,187.91 L201.93,187.91 L202.04,187.90 L202.15,187.90 L202.26,187.89 L202.37,187.89 L202.48,187.88 L202.59,187.88 L202.70,187.88 L202.82,187.87 L202.93,187.87 L203.04,187.86 L203.15,187.86 L203.26,187.85 L203.37,187.85 L203.48,187.84 L203.59,187.84 L203.70,187.83 L203.82,187.83 L203.93,187.82 L204.04,187.82 L204.15,187.81 L204.26,187.81 L204.37,187.80 L204.48,187.80 L204.59,187.79 L204.70,187.79 L204.82,187.78 L204.93,187.78 L205.04,187.77 L205.15,187.77 L205.26,187.76 L205.37,187.76 L205.48,187.75 L205.59,187.75 L205.70,187.74 L205.82,187.74 L205.93,187.73 L206.04,187.72 L206.15,187.72 L206.26,187.71 L206.37,187.71 L206.48,187.70 L206.59,187.70 L206.70,187.69 L206.82,187.69 L206.93,187.68 L207.04,187.68 L207.15,187.67 L207.26,187.67 L207.37,187.66 L207.48,187.65 L207.59,187.65 L207.70,187.64 L207.82,187.64 L207.93,187.63 L208.04,187.63 L208.15,187.62 L208.26,187.62 L208.37,187.61 L208.48,187.60 L208.59,187.60 L208.70,187.59 L208.82,187.59 L208.93,187.58 L209.04,187.57 L209.15,187.57 L209.26,187.56 L209.37,187.56 L209.48,187.55 L209.59,187.55 L209.70,187.54 L209.82,187.53 L209.93,187.53 L210.04,187.52 L210.15,187.52 L210.26,187.51 L210.37,187.50 L210.48,187.50 L210.59,187.49 L210.70,187.49 L210.81,187.48 L210.93,187.47 L211.04,187.47 L211.15,187.46 L211.26,187.45 L211.37,187.45 L211.48,187.44 L211.59,187.44 L211.70,187.43 L211.81,187.42 L211.93,187.42 L212.04,187.41 L212.15,187.40 L212.26,187.40 L212.37,187.39 L212.48,187.38 L212.59,187.38 L212.70,187.37 L212.81,187.36 L212.93,187.36 L213.04,187.35 L213.15,187.35 L213.26,187.34 L213.37,187.33 L213.48,187.33 L213.59,187.32 L213.70,187.31 L213.81,187.30 L213.93,187.30 L214.04,187.29 L214.15,187.28 L214.26,187.28 L214.37,187.27 L214.48,187.26 L214.59,187.26 L214.70,187.25 L214.81,187.24 L214.93,187.24 L215.04,187.23 L215.15,187.22 L215.26,187.21 L215.37,187.21 L215.48,187.20 L215.59,187.19 L215.70,187.19 L215.81,187.18 L215.93,187.17 L216.04,187.16 L216.15,187.16 L216.26,187.15 L216.37,187.14 L216.48,187.14 L216.59,187.13 L216.70,187.12 L216.81,187.11 L216.93,187.11 L217.04,187.10 L217.15,187.09 L217.26,187.08 L217.37,187.08 L217.48,187.07 L217.59,187.06 L217.70,187.05 L217.81,187.04 L217.93,187.04 L218.04,187.03 L218.15,187.02 L218.26,187.01 L218.37,187.01 L218.48,187.00 L218.59,186.99 L218.70,186.98 L218.81,186.97 L218.93,186.97 L219.04,186.96 L219.15,186.95 L219.26,186.94 L219.37,186.93 L219.48,186.93 L219.59,186.92 L219.70,186.91 L219.81,186.90 L219.92,186.89 L220.04,186.89 L220.15,186.88 L220.26,186.87 L220.37,186.86 L220.48,186.85 L220.59,186.84 L220.70,186.84 L220.81,186.83 L220.92,186.82 L221.04,186.81 L221.15,186.80 L221.26,186.79 L221.37,186.78 L221.48,186.78 L221.59,186.77 L221.70,186.76 L221.81,186.75 L221.92,186.74 L222.04,186.73 L222.15,186.72 L222.26,186.71 L222.37,186.71 L222.48,186.70 L222.59,186.69 L222.70,186.68 L222.81,186.67 L222.92,186.66 L223.04,186.65 L223.15,186.64 L223.26,186.63 L223.37,186.62 L223.48,186.61 L223.59,186.61 L223.70,186.60 L223.81,186.59 L223.92,186.58 L224.04,186.57 L224.15,186.56 L224.26,186.55 L224.37,186.54 L224.48,186.53 L224.59,186.52 L224.70,186.51 L224.81,186.50 L224.92,186.49 L225.04,186.48 L225.15,186.47 L225.26,186.46 L225.37,186.45 L225.48,186.44 L225.59,186.43 L225.70,186.42 L225.81,186.41 L225.92,186.40 L226.04,186.39 L226.15,186.38 L226.26,186.37 L226.37,186.36 L226.48,186.35 L226.59,186.34 L226.70,186.33 L226.81,186.32 L226.92,186.31 L227.04,186.30 L227.15,186.29 L227.26,186.28 L227.37,186.27 L227.48,186.26 L227.59,186.25 L227.70,186.24 L227.81,186.23 L227.92,186.22 L228.04,186.21 L228.15,186.20 L228.26,186.19 L228.37,186.18 L228.48,186.16 L228.59,186.15 L228.70,186.14 L228.81,186.13 L228.92,186.12 L229.03,186.11 L229.15,186.10 L229.26,186.09 L229.37,186.08 L229.48,186.07 L229.59,186.05 L229.70,186.04 L229.81,186.03 L229.92,186.02 L230.03,186.01 L230.15,186.00 L230.26,185.99 L230.37,185.98 L230.48,185.96 L230.59,185.95 L230.70,185.94 L230.81,185.93 L230.92,185.92 L231.03,185.91 L231.15,185.89 L231.26,185.88 L231.37,185.87 L231.48,185.86 L231.59,185.85 L231.70,185.83 L231.81,185.82 L231.92,185.81 L232.03,185.80 L232.15,185.79 L232.26,185.77 L232.37,185.76 L232.48,185.75 L232.59,185.74 L232.70,185.72 L232.81,185.71 L232.92,185.70 L233.03,185.69 L233.15,185.67 L233.26,185.66 L233.37,185.65 L233.48,185.64 L233.59,185.62 L233.70,185.61 L233.81,185.60 L233.92,185.59 L234.03,185.57 L234.15,185.56 L234.26,185.55 L234.37,185.53 L234.48,185.52 L234.59,185.51 L234.70,185.49 L234.81,185.48 L234.92,185.47 L235.03,185.45 L235.15,185.44 L235.26,185.43 L235.37,185.41 L235.48,185.40 L235.59,185.39 L235.70,185.37 L235.81,185.36 L235.92,185.35 L236.03,185.33 L236.15,185.32 L236.26,185.31 L236.37,185.29 L236.48,185.28 L236.59,185.26 L236.70,185.25 L236.81,185.24 L236.92,185.22 L237.03,185.21 L237.15,185.19 L237.26,185.18 L237.37,185.16 L237.48,185.15 L237.59,185.14 L237.70,185.12 L237.81,185.11 L237.92,185.09 L238.03,185.08 L238.15,185.06 L238.26,185.05 L238.37,185.03 L238.48,185.02 L238.59,185.00 L238.70,184.99 L238.81,184.97 L238.92,184.96 L239.03,184.94 L239.14,184.93 L239.26,184.91 L239.37,184.90 L239.48,184.88 L239.59,184.87 L239.70,184.85 L239.81,184.84 L239.92,184.82 L240.03,184.80 L240.14,184.79 L240.26,184.77 L240.37,184.76 L240.48,184.74 L240.59,184.73 L240.70,184.71 L240.81,184.69 L240.92,184.68 L241.03,184.66 L241.14,184.64 L241.26,184.63 L241.37,184.61 L241.48,184.60 L241.59,184.58 L241.70,184.56 L241.81,184.55 L241.92,184.53 L242.03,184.51 L242.14,184.50 L242.26,184.48 L242.37,184.46 L242.48,184.45 L242.59,184.43 L242.70,184.41 L242.81,184.40 L242.92,184.38 L243.03,184.36 L243.14,184.34 L243.26,184.33 L243.37,184.31 L243.48,184.29 L243.59,184.27 L243.70,184.26 L243.81,184.24 L243.92,184.22 L244.03,184.20 L244.14,184.19 L244.26,184.17 L244.37,184.15 L244.48,184.13 L244.59,184.11 L244.70,184.10 L244.81,184.08 L244.92,184.06 L245.03,184.04 L245.14,184.02 L245.26,184.00 L245.37,183.99 L245.48,183.97 L245.59,183.95 L245.70,183.93 L245.81,183.91 L245.92,183.89 L246.03,183.87 L246.14,183.85 L246.26,183.84 L246.37,183.82 L246.48,183.80 L246.59,183.78 L246.70,183.76 L246.81,183.74 L246.92,183.72 L247.03,183.70 L247.14,183.68 L247.26,183.66 L247.37,183.64 L247.48,183.62 L247.59,183.60 L247.70,183.58 L247.81,183.56 L247.92,183.54 L248.03,183.52 L248.14,183.50 L248.25,183.48 L248.37,183.46 L248.48,183.44 L248.59,183.42 L248.70,183.40 L248.81,183.38 L248.92,183.36 L249.03,183.34 L249.14,183.32 L249.25,183.29 L249.37,183.27 L249.48,183.25 L249.59,183.23 L249.70,183.21 L249.81,183.19 L249.92,183.17 L250.03,183.15 L250.14,183.12 L250.25,183.10 L250.37,183.08 L250.48,183.06 L250.59,183.04 L250.70,183.02 L250.81,182.99 L250.92,182.97 L251.03,182.95 L251.14,182.93 L251.25,182.90 L251.37,182.88 L251.48,182.86 L251.59,182.84 L251.70,182.81 L251.81,182.79 L251.92,182.77 L252.03,182.75 L252.14,182.72 L252.25,182.70 L252.37,182.68 L252.48,182.65 L252.59,182.63 L252.70,182.61 L252.81,182.58 L252.92,182.56 L253.03,182.54 L253.14,182.51 L253.25,182.49 L253.37,182.46 L253.48,182.44 L253.59,182.42 L253.70,182.39 L253.81,182.37 L253.92,182.34 L254.03,182.32 L254.14,182.29 L254.25,182.27 L254.37,182.25 L254.48,182.22 L254.59,182.20 L254.70,182.17 L254.81,182.15 L254.92,182.12 L255.03,182.10 L255.14,182.07 L255.25,182.04 L255.37,182.02 L255.48,181.99 L255.59,181.97 L255.70,181.94 L255.81,181.92 L255.92,181.89 L256.03,181.86 L256.14,181.84 L256.25,181.81 L256.37,181.79 L256.48,181.76 L256.59,181.73 L256.70,181.71 L256.81,181.68 L256.92,181.65 L257.03,181.63 L257.14,181.60 L257.25,181.57 L257.36,181.54 L257.48,181.52 L257.59,181.49 L257.70,181.46 L257.81,181.44 L257.92,181.41 L258.03,181.38 L258.14,181.35 L258.25,181.32 L258.36,181.30 L258.48,181.27 L258.59,181.24 L258.70,181.21 L258.81,181.18 L258.92,181.15 L259.03,181.13 L259.14,181.10 L259.25,181.07 L259.36,181.04 L259.48,181.01 L259.59,180.98 L259.70,180.95 L259.81,180.92 L259.92,180.89 L260.03,180.86 L260.14,180.83 L260.25,180.80 L260.36,180.77 L260.48,180.74 L260.59,180.71 L260.70,180.68 L260.81,180.65 L260.92,180.62 L261.03,180.59 L261.14,180.56 L261.25,180.53 L261.36,180.50 L261.48,180.47 L261.59,180.44 L261.70,180.41 L261.81,180.38 L261.92,180.34 L262.03,180.31 L262.14,180.28 L262.25,180.25 L262.36,180.22 L262.48,180.19 L262.59,180.15 L262.70,180.12 L262.81,180.09 L262.92,180.06 L263.03,180.02 L263.14,179.99 L263.25,179.96 L263.36,179.93 L263.48,179.89 L263.59,179.86 L263.70,179.83 L263.81,179.79 L263.92,179.76 L264.03,179.73 L264.14,179.69 L264.25,179.66 L264.36,179.62 L264.48,179.59 L264.59,179.56 L264.70,179.52 L264.81,179.49 L264.92,179.45 L265.03,179.42 L265.14,179.38 L265.25,179.35 L265.36,179.31 L265.48,179.28 L265.59,179.24 L265.70,179.21 L265.81,179.17 L265.92,179.14 L266.03,179.10 L266.14,179.06 L266.25,179.03 L266.36,178.99 L266.47,178.96 L266.59,178.92 L266.70,178.88 L266.81,178.85 L266.92,178.81 L267.03,178.77 L267.14,178.74 L267.25,178.70 L267.36,178.66 L267.47,178.62 L267.59,178.59 L267.70,178.55 L267.81,178.51 L267.92,178.47 L268.03,178.43 L268.14,178.40 L268.25,178.36 L268.36,178.32 L268.47,178.28 L268.59,178.24 L268.70,178.20 L268.81,178.16 L268.92,178.12 L269.03,178.08 L269.14,178.04 L269.25,178.00 L269.36,177.96 L269.47,177.92 L269.59,177.88 L269.70,177.84 L269.81,177.80 L269.92,177.76 L270.03,177.72 L270.14,177.68 L270.25,177.64 L270.36,177.60 L270.47,177.56 L270.59,177.52 L270.70,177.48 L270.81,177.43 L270.92,177.39 L271.03,177.35 L271.14,177.31 L271.25,177.27 L271.36,177.22 L271.47,177.18 L271.59,177.14 L271.70,177.09 L271.81,177.05 L271.92,177.01 L272.03,176.97 L272.14,176.92 L272.25,176.88 L272.36,176.83 L272.47,176.79 L272.59,176.75 L272.70,176.70 L272.81,176.66 L272.92,176.61 L273.03,176.57 L273.14,176.52 L273.25,176.48 L273.36,176.43 L273.47,176.39 L273.59,176.34 L273.70,176.30 L273.81,176.25 L273.92,176.20 L274.03,176.16 L274.14,176.11 L274.25,176.06 L274.36,176.02 L274.47,175.97 L274.59,175.92 L274.70,175.88 L274.81,175.83 L274.92,175.78 L275.03,175.73 L275.14,175.69 L275.25,175.64 L275.36,175.59 L275.47,175.54 L275.59,175.49 L275.70,175.44 L275.81,175.39 L275.92,175.35 L276.03,175.30 L276.14,175.25 L276.25,175.20 L276.36,175.15 L276.47,175.10 L276.58,175.05 L276.70,175.00 L276.81,174.95 L276.92,174.90 L277.03,174.85 L277.14,174.79 L277.25,174.74 L277.36,174.69 L277.47,174.64 L277.58,174.59 L277.70,174.54 L277.81,174.48 L277.92,174.43 L278.03,174.38 L278.14,174.33 L278.25,174.27 L278.36,174.22 L278.47,174.17 L278.58,174.11 L278.70,174.06 L278.81,174.01 L278.92,173.95 L279.03,173.90 L279.14,173.84 L279.25,173.79 L279.36,173.73 L279.47,173.68 L279.58,173.62 L279.70,173.57 L279.81,173.51 L279.92,173.46 L280.03,173.40 L280.14,173.34 L280.25,173.29 L280.36,173.23 L280.47,173.17 L280.58,173.12 L280.70,173.06 L280.81,173.00 L280.92,172.95 L281.03,172.89 L281.14,172.83 L281.25,172.77 L281.36,172.71 L281.47,172.65 L281.58,172.60 L281.70,172.54 L281.81,172.48 L281.92,172.42 L282.03,172.36 L282.14,172.30 L282.25,172.24 L282.36,172.18 L282.47,172.12 L282.58,172.06 L282.70,172.00 L282.81,171.93 L282.92,171.87 L283.03,171.81 L283.14,171.75 L283.25,171.69 L283.36,171.63 L283.47,171.56 L283.58,171.50 L283.70,171.44 L283.81,171.37 L283.92,171.31 L284.03,171.25 L284.14,171.18 L284.25,171.12 L284.36,171.05 L284.47,170.99 L284.58,170.93 L284.70,170.86 L284.81,170.80 L284.92,170.73 L285.03,170.66 L285.14,170.60 L285.25,170.53 L285.36,170.47 L285.47,170.40 L285.58,170.33 L285.69,170.27 L285.81,170.20 L285.92,170.13 L286.03,170.06 L286.14,169.99 L286.25,169.93 L286.36,169.86 L286.47,169.79 L286.58,169.72 L286.69,169.65 L286.81,169.58 L286.92,169.51 L287.03,169.44 L287.14,169.37 L287.25,169.30 L287.36,169.23 L287.47,169.16 L287.58,169.09 L287.69,169.02 L287.81,168.94 L287.92,168.87 L288.03,168.80 L288.14,168.73 L288.25,168.65 L288.36,168.58 L288.47,168.51 L288.58,168.43 L288.69,168.36 L288.81,168.29 L288.92,168.21 L289.03,168.14 L289.14,168.06 L289.25,167.99 L289.36,167.91 L289.47,167.84 L289.58,167.76 L289.69,167.68 L289.81,167.61 L289.92,167.53 L290.03,167.45 L290.14,167.38 L290.25,167.30 L290.36,167.22 L290.47,167.14 L290.58,167.06 L290.69,166.99 L290.81,166.91 L290.92,166.83 L291.03,166.75 L291.14,166.67 L291.25,166.59 L291.36,166.51 L291.47,166.43 L291.58,166.35 L291.69,166.26 L291.81,166.18 L291.92,166.10 L292.03,166.02 L292.14,165.94 L292.25,165.85 L292.36,165.77 L292.47,165.69 L292.58,165.60 L292.69,165.52 L292.81,165.44 L292.92,165.35 L293.03,165.27 L293.14,165.18 L293.25,165.10 L293.36,165.01 L293.47,164.92 L293.58,164.84 L293.69,164.75 L293.81,164.66 L293.92,164.58 L294.03,164.49 L294.14,164.40 L294.25,164.31 L294.36,164.23 L294.47,164.14 L294.58,164.05 L294.69,163.96 L294.80,163.87 L294.92,163.78 L295.03,163.69 L295.14,163.60 L295.25,163.51 L295.36,163.42 L295.47,163.32 L295.58,163.23 L295.69,163.14 L295.80,163.05 L295.92,162.95 L296.03,162.86 L296.14,162.77 L296.25,162.67 L296.36,162.58 L296.47,162.48 L296.58,162.39 L296.69,162.29 L296.80,162.20 L296.92,162.10 L297.03,162.01 L297.14,161.91 L297.25,161.81 L297.36,161.71 L297.47,161.62 L297.58,161.52 L297.69,161.42 L297.80,161.32 L297.92,161.22 L298.03,161.12 L298.14,161.02 L298.25,160.92 L298.36,160.82 L298.47,160.72 L298.58,160.62 L298.69,160.52 L298.80,160.42 L298.92,160.31 L299.03,160.21 L299.14,160.11 L299.25,160.00 L299.36,159.90 L299.47,159.80 L299.58,159.69 L299.69,159.59 L299.80,159.48 L299.92,159.38 L300.03,159.27 L300.14,159.16 L300.25,159.06 L300.36,158.95 L300.47,158.84 L300.58,158.73 L300.69,158.63 L300.80,158.52 L300.92,158.41 L301.03,158.30 L301.14,158.19 L301.25,158.08 L301.36,157.97 L301.47,157.86 L301.58,157.75 L301.69,157.63 L301.80,157.52 L301.92,157.41 L302.03,157.30 L302.14,157.18 L302.25,157.07 L302.36,156.95 L302.47,156.84 L302.58,156.73 L302.69,156.61 L302.80,156.49 L302.92,156.38 L303.03,156.26 L303.14,156.14 L303.25,156.03 L303.36,155.91 L303.47,155.79 L303.58,155.67 L303.69,155.55 L303.80,155.43 L303.92,155.31 L304.03,155.19 L304.14,155.07 L304.25,154.95 L304.36,154.83 L304.47,154.71 L304.58,154.58 L304.69,154.46 L304.80,154.34 L304.91,154.21 L305.03,154.09 L305.14,153.96 L305.25,153.84 L305.36,153.71 L305.47,153.59 L305.58,153.46 L305.69,153.33 L305.80,153.21 L305.91,153.08 L306.03,152.95 L306.14,152.82 L306.25,152.69 L306.36,152.56 L306.47,152.43 L306.58,152.30 L306.69,152.17 L306.80,152.04 L306.91,151.91 L307.03,151.77 L307.14,151.64 L307.25,151.51 L307.36,151.37 L307.47,151.24 L307.58,151.10 L307.69,150.97 L307.80,150.83 L307.91,150.69 L308.03,150.56 L308.14,150.42 L308.25,150.28 L308.36,150.14 L308.47,150.01 L308.58,149.87 L308.69,149.73 L308.80,149.59 L308.91,149.45 L309.03,149.30 L309.14,149.16 L309.25,149.02 L309.36,148.88 L309.47,148.73 L309.58,148.59 L309.69,148.45 L309.80,148.30 L309.91,148.16 L310.03,148.01 L310.14,147.86 L310.25,147.72 L310.36,147.57 L310.47,147.42 L310.58,147.27 L310.69,147.12 L310.80,146.97 L310.91,146.82 L311.03,146.67 L311.14,146.52 L311.25,146.37 L311.36,146.22 L311.47,146.06 L311.58,145.91 L311.69,145.76 L311.80,145.60 L311.91,145.45 L312.03,145.29 L312.14,145.14 L312.25,144.98 L312.36,144.82 L312.47,144.67 L312.58,144.51 L312.69,144.35 L312.80,144.19 L312.91,144.03 L313.03,143.87 L313.14,143.71 L313.25,143.55 L313.36,143.38 L313.47,143.22 L313.58,143.06 L313.69,142.89 L313.80,142.73 L313.91,142.56 L314.02,142.40 L314.14,142.23 L314.25,142.06 L314.36,141.90 L314.47,141.73 L314.58,141.56 L314.69,141.39 L314.80,141.22 L314.91,141.05 L315.02,140.88 L315.14,140.71 L315.25,140.53 L315.36,140.36 L315.47,140.19 L315.58,140.01 L315.69,139.84 L315.80,139.66 L315.91,139.49 L316.02,139.31 L316.14,139.13 L316.25,138.96 L316.36,138.78 L316.47,138.60 L316.58,138.42 L316.69,138.24 L316.80,138.06 L316.91,137.87 L317.02,137.69 L317.14,137.51 L317.25,137.32 L317.36,137.14 L317.47,136.96 L317.58,136.77 L317.69,136.58 L317.80,136.40 L317.91,136.21 L318.02,136.02 L318.14,135.83 L318.25,135.64 L318.36,135.45 L318.47,135.26 L318.58,135.07 L318.69,134.88 L318.80,134.68 L318.91,134.49 L319.02,134.29 L319.14,134.10 L319.25,133.90 L319.36,133.71 L319.47,133.51 L319.58,133.31 L319.69,133.11 L319.80,132.91 L319.91,132.71 L320.02,132.51 L320.14,132.31 L320.25,132.11 L320.36,131.91 L320.47,131.70 L320.58,131.50 L320.69,131.29 L320.80,131.09 L320.91,130.88 L321.02,130.67 L321.14,130.47 L321.25,130.26 L321.36,130.05 L321.47,129.84 L321.58,129.63 L321.69,129.41 L321.80,129.20 L321.91,128.99 L322.02,128.78 L322.14,128.56 L322.25,128.34 L322.36,128.13 L322.47,127.91 L322.58,127.69 L322.69,127.48 L322.80,127.26 L322.91,127.04 L323.02,126.81 L323.13,126.59 L323.25,126.37 L323.36,126.15 L323.47,125.92 L323.58,125.70 L323.69,125.47 L323.80,125.25 L323.91,125.02 L324.02,124.79 L324.13,124.56 L324.25,124.33 L324.36,124.10 L324.47,123.87 L324.58,123.64 L324.69,123.40 L324.80,123.17 L324.91,122.94 L325.02,122.70 L325.13,122.46 L325.25,122.23 L325.36,121.99 L325.47,121.75 L325.58,121.51 L325.69,121.27 L325.80,121.03 L325.91,120.79 L326.02,120.54 L326.13,120.30 L326.25,120.05 L326.36,119.81 L326.47,119.56 L326.58,119.31 L326.69,119.07 L326.80,118.82 L326.91,118.57 L327.02,118.32 L327.13,118.06 L327.25,117.81 L327.36,117.56 L327.47,117.30 L327.58,117.05 L327.69,116.79 L327.80,116.53 L327.91,116.27 L328.02,116.02 L328.13,115.76 L328.25,115.49 L328.36,115.23 L328.47,114.97 L328.58,114.71 L328.69,114.44 L328.80,114.18 L328.91,113.91 L329.02,113.64 L329.13,113.37 L329.25,113.10 L329.36,112.83 L329.47,112.56 L329.58,112.29 L329.69,112.02 L329.80,111.74 L329.91,111.47 L330.02,111.19 L330.13,110.91 L330.25,110.63 L330.36,110.36 L330.47,110.07 L330.58,109.79 L330.69,109.51 L330.80,109.23 L330.91,108.94 L331.02,108.66 L331.13,108.37 L331.25,108.09 L331.36,107.80 L331.47,107.51 L331.58,107.22 L331.69,106.93 L331.80,106.63 L331.91,106.34 L332.02,106.05 L332.13,105.75 L332.24,105.45 L332.36,105.16 L332.47,104.86 L332.58,104.56 L332.69,104.26 L332.80,103.95 L332.91,103.65 L333.02,103.35 L333.13,103.04 L333.24,102.74 L333.36,102.43 L333.47,102.12 L333.58,101.81 L333.69,101.50 L333.80,101.19 L333.91,100.88 L334.02,100.56 L334.13,100.25 L334.24,99.93 L334.36,99.61 L334.47,99.30 L334.58,98.98 L334.69,98.66 L334.80,98.33 L334.91,98.01 L335.02,97.69 L335.13,97.36 L335.24,97.04 L335.36,96.71 L335.47,96.38 L335.58,96.05 L335.69,95.72 L335.80,95.39 L335.91,95.05 L336.02,94.72 L336.13,94.38 L336.24,94.04 L336.36,93.71 L336.47,93.37 L336.58,93.03 L336.69,92.69 L336.80,92.34 L336.91,92.00 L337.02,91.65 L337.13,91.31 L337.24,90.96 L337.36,90.61 L337.47,90.26 L337.58,89.91 L337.69,89.55 L337.80,89.20 L337.91,88.84 L338.02,88.49 L338.13,88.13 L338.24,87.77 L338.36,87.41 L338.47,87.05 L338.58,86.69 L338.69,86.32 L338.80,85.96 L338.91,85.59 L339.02,85.22 L339.13,84.85 L339.24,84.48 L339.36,84.11 L339.47,83.73 L339.58,83.36 L339.69,82.98 L339.80,82.61 L339.91,82.23 L340.02,81.85 L340.13,81.47 L340.24,81.08 L340.36,80.70 L340.47,80.31 L340.58,79.93 L340.69,79.54 L340.80,79.15 L340.91,78.76 L341.02,78.36 L341.13,77.97 L341.24,77.57 L341.36,77.18 L341.47,76.78 L341.58,76.38 L341.69,75.98 L341.80,75.58 L341.91,75.17 L342.02,74.77 L342.13,74.36 L342.24,73.95 L342.35,73.54 L342.47,73.13 L342.58,72.72 L342.69,72.31 L342.80,71.89 L342.91,71.47 L343.02,71.06 L343.13,70.64 L343.24,70.21 L343.35,69.79 L343.47,69.37 L343.58,68.94 L343.69,68.51 L343.80,68.09 L343.91,67.65 L344.02,67.22 L344.13,66.79 L344.24,66.35 L344.35,65.92 L344.47,65.48 L344.58,65.04 L344.69,64.60 L344.80,64.16 L344.91,63.71 L345.02,63.27 L345.13,62.82 L345.24,62.37 L345.35,61.92 L345.47,61.47 L345.58,61.01 L345.69,60.56 L345.80,60.10 L345.91,59.64 L346.02,59.18 L346.13,58.72 L346.24,58.25 L346.35,57.79 L346.47,57.32 L346.58,56.85 L346.69,56.38 L346.80,55.91 L346.91,55.44 L347.02,54.96 L347.13,54.48 L347.24,54.01 L347.35,53.53 L347.47,53.04 L347.58,52.56 L347.69,52.07 L347.80,51.59 L347.91,51.10 L348.02,50.61 L348.13,50.11 L348.24,49.62 L348.35,49.12 L348.47,48.63 L348.58,48.13 L348.69,47.63 L348.80,47.12 L348.91,46.62 L349.02,46.11 L349.13,45.60 L349.24,45.09 L349.35,44.58 L349.47,44.07 L349.58,43.55 L349.69,43.03 L349.80,42.51 L349.91,41.99 L350.02,41.47 L350.13,40.94 L350.24,40.42 L350.35,39.89 L350.47,39.36 L350.58,38.83 L350.69,38.29 L350.80,37.75 L350.91,37.22 L351.02,36.68 L351.13,36.13 L351.24,35.59 L351.35,35.04 L351.46,34.50 L351.58,33.95 L351.69,33.39 L351.80,32.84 L351.91,32.29 L352.02,31.73 L352.13,31.17 L352.24,30.61 L352.35,30.04 L352.46,29.48 L352.58,28.91 L352.69,28.34 L352.80,27.77 L352.91,27.20 L353.02,26.62 L353.13,26.04 L353.24,25.46 L353.35,24.88 L353.46,24.30 L353.58,23.71 L353.69,23.12 L353.80,22.53 L353.91,21.94 L354.02,21.35 L354.13,20.75 L354.24,20.15 L354.35,19.55 L354.46,18.95 L354.58,18.34 L354.69,17.73 L354.80,17.12 L354.91,16.51 L355.02,15.90 L355.13,15.28 L355.24,14.67 L355.35,14.05 L355.46,13.42 L355.58,12.80 L355.69,12.17 L355.80,11.54 L355.91,10.91 L356.02,10.28 L356.13,9.64 L356.24,9.00 L356.35,8.36 L356.46,7.72" stroke="#0000ff" stroke-width="1.9" stroke-dasharray="11.5 5.1" stroke-dashoffset="8.74"/>
<path d="M243.70,188.72 L243.81,188.71 L243.92,188.71 L244.03,188.71 L244.14,188.71 L244.26,188.71 L244.37,188.71 L244.48,188.70 L244.59,188.70 L244.70,188.70 L244.81,188.70 L244.92,188.70 L245.03,188.69 L245.14,188.69 L245.26,188.69 L245.37,188.69 L245.48,188.69 L245.59,188.69 L245.70,188.68 L245.81,188.68 L245.92,188.68 L246.03,188.68 L246.14,188.68 L246.26,188.67 L246.37,188.67 L246.48,188.67 L246.59,188.67 L246.70,188.67 L246.81,188.66 L246.92,188.66 L247.03,188.66 L247.14,188.66 L247.26,188.66 L247.37,188.65 L247.48,188.65 L247.59,188.65 L247.70,188.65 L247.81,188.65 L247.92,188.64 L248.03,188.64 L248.14,188.64 L248.25,188.64 L248.37,188.64 L248.48,188.63 L248.59,188.63 L248.70,188.63 L248.81,188.63 L248.92,188.63 L249.03,188.62 L249.14,188.62 L249.25,188.62 L249.37,188.62 L249.48,188.62 L249.59,188.61 L249.70,188.61 L249.81,188.61 L249.92,188.61 L250.03,188.60 L250.14,188.60 L250.25,188.60 L250.37,188.60 L250.48,188.60 L250.59,188.59 L250.70,188.59 L250.81,188.59 L250.92,188.59 L251.03,188.58 L251.14,188.58 L251.25,188.58 L251.37,188.58 L251.48,188.58 L251.59,188.57 L251.70,188.57 L251.81,188.57 L251.92,188.57 L252.03,188.56 L252.14,188.56 L252.25,188.56 L252.37,188.56 L252.48,188.56 L252.59,188.55 L252.70,188.55 L252.81,188.55 L252.92,188.55 L253.03,188.54 L253.14,188.54 L253.25,188.54 L253.37,188.54 L253.48,188.53 L253.59,188.53 L253.70,188.53 L253.81,188.53 L253.92,188.52 L254.03,188.52 L254.14,188.52 L254.25,188.52 L254.37,188.51 L254.48,188.51 L254.59,188.51 L254.70,188.51 L254.81,188.50 L254.92,188.50 L255.03,188.50 L255.14,188.50 L255.25,188.49 L255.37,188.49 L255.48,188.49 L255.59,188.49 L255.70,188.48 L255.81,188.48 L255.92,188.48 L256.03,188.48 L256.14,188.47 L256.25,188.47 L256.37,188.47 L256.48,188.47 L256.59,188.46 L256.70,188.46 L256.81,188.46 L256.92,188.45 L257.03,188.45 L257.14,188.45 L257.25,188.45 L257.36,188.44 L257.48,188.44 L257.59,188.44 L257.70,188.44 L257.81,188.43 L257.92,188.43 L258.03,188.43 L258.14,188.42 L258.25,188.42 L258.36,188.42 L258.48,188.42 L258.59,188.41 L258.70,188.41 L258.81,188.41 L258.92,188.40 L259.03,188.40 L259.14,188.40 L259.25,188.40 L259.36,188.39 L259.48,188.39 L259.59,188.39 L259.70,188.38 L259.81,188.38 L259.92,188.38 L260.03,188.38 L260.14,188.37 L260.25,188.37 L260.36,188.37 L260.48,188.36 L260.59,188.36 L260.70,188.36 L260.81,188.35 L260.92,188.35 L261.03,188.35 L261.14,188.34 L261.25,188.34 L261.36,188.34 L261.48,188.34 L261.59,188.33 L261.70,188.33 L261.81,188.33 L261.92,188.32 L262.03,188.32 L262.14,188.32 L262.25,188.31 L262.36,188.31 L262.48,188.31 L262.59,188.30 L262.70,188.30 L262.81,188.30 L262.92,188.29 L263.03,188.29 L263.14,188.29 L263.25,188.28 L263.36,188.28 L263.48,188.28 L263.59,188.27 L263.70,188.27 L263.81,188.27 L263.92,188.26 L264.03,188.26 L264.14,188.26 L264.25,188.25 L264.36,188.25 L264.48,188.25 L264.59,188.24 L264.70,188.24 L264.81,188.24 L264.92,188.23 L265.03,188.23 L265.14,188.23 L265.25,188.22 L265.36,188.22 L265.48,188.22 L265.59,188.21 L265.70,188.21 L265.81,188.21 L265.92,188.20 L266.03,188.20 L266.14,188.19 L266.25,188.19 L266.36,188.19 L266.47,188.18 L266.59,188.18 L266.70,188.18 L266.81,188.17 L266.92,188.17 L267.03,188.17 L267.14,188.16 L267.25,188.16 L267.36,188.15 L267.47,188.15 L267.59,188.15 L267.70,188.14 L267.81,188.14 L267.92,188.13 L268.03,188.13 L268.14,188.13 L268.25,188.12 L268.36,188.12 L268.47,188.12 L268.59,188.11 L268.70,188.11 L268.81,188.10 L268.92,188.10 L269.03,188.10 L269.14,188.09 L269.25,188.09 L269.36,188.08 L269.47,188.08 L269.59,188.08 L269.70,188.07 L269.81,188.07 L269.92,188.06 L270.03,188.06 L270.14,188.06 L270.25,188.05 L270.36,188.05 L270.47,188.04 L270.59,188.04 L270.70,188.03 L270.81,188.03 L270.92,188.03 L271.03,188.02 L271.14,188.02 L271.25,188.01 L271.36,188.01 L271.47,188.01 L271.59,188.00 L271.70,188.00 L271.81,187.99 L271.92,187.99 L272.03,187.98 L272.14,187.98 L272.25,187.97 L272.36,187.97 L272.47,187.97 L272.59,187.96 L272.70,187.96 L272.81,187.95 L272.92,187.95 L273.03,187.94 L273.14,187.94 L273.25,187.93 L273.36,187.93 L273.47,187.93 L273.59,187.92 L273.70,187.92 L273.81,187.91 L273.92,187.91 L274.03,187.90 L274.14,187.90 L274.25,187.89 L274.36,187.89 L274.47,187.88 L274.59,187.88 L274.70,187.87 L274.81,187.87 L274.92,187.86 L275.03,187.86 L275.14,187.85 L275.25,187.85 L275.36,187.85 L275.47,187.84 L275.59,187.84 L275.70,187.83 L275.81,187.83 L275.92,187.82 L276.03,187.82 L276.14,187.81 L276.25,187.81 L276.36,187.80 L276.47,187.80 L276.58,187.79 L276.70,187.79 L276.81,187.78 L276.92,187.78 L277.03,187.77 L277.14,187.77 L277.25,187.76 L277.36,187.76 L277.47,187.75 L277.58,187.74 L277.70,187.74 L277.81,187.73 L277.92,187.73 L278.03,187.72 L278.14,187.72 L278.25,187.71 L278.36,187.71 L278.47,187.70 L278.58,187.70 L278.70,187.69 L278.81,187.69 L278.92,187.68 L279.03,187.68 L279.14,187.67 L279.25,187.66 L279.36,187.66 L279.47,187.65 L279.58,187.65 L279.70,187.64 L279.81,187.64 L279.92,187.63 L280.03,187.63 L280.14,187.62 L280.25,187.61 L280.36,187.61 L280.47,187.60 L280.58,187.60 L280.70,187.59 L280.81,187.59 L280.92,187.58 L281.03,187.57 L281.14,187.57 L281.25,187.56 L281.36,187.56 L281.47,187.55 L281.58,187.54 L281.70,187.54 L281.81,187.53 L281.92,187.53 L282.03,187.52 L282.14,187.51 L282.25,187.51 L282.36,187.50 L282.47,187.50 L282.58,187.49 L282.70,187.48 L282.81,187.48 L282.92,187.47 L283.03,187.47 L283.14,187.46 L283.25,187.45 L283.36,187.45 L283.47,187.44 L283.58,187.43 L283.70,187.43 L283.81,187.42 L283.92,187.42 L284.03,187.41 L284.14,187.40 L284.25,187.40 L284.36,187.39 L284.47,187.38 L284.58,187.38 L284.70,187.37 L284.81,187.36 L284.92,187.36 L285.03,187.35 L285.14,187.34 L285.25,187.34 L285.36,187.33 L285.47,187.32 L285.58,187.32 L285.69,187.31 L285.81,187.30 L285.92,187.30 L286.03,187.29 L286.14,187.28 L286.25,187.28 L286.36,187.27 L286.47,187.26 L286.58,187.26 L286.69,187.25 L286.81,187.24 L286.92,187.23 L287.03,187.23 L287.14,187.22 L287.25,187.21 L287.36,187.21 L287.47,187.20 L287.58,187.19 L287.69,187.18 L287.81,187.18 L287.92,187.17 L288.03,187.16 L288.14,187.16 L288.25,187.15 L288.36,187.14 L288.47,187.13 L288.58,187.13 L288.69,187.12 L288.81,187.11 L288.92,187.10 L289.03,187.10 L289.14,187.09 L289.25,187.08 L289.36,187.07 L289.47,187.07 L289.58,187.06 L289.69,187.05 L289.81,187.04 L289.92,187.04 L290.03,187.03 L290.14,187.02 L290.25,187.01 L290.36,187.00 L290.47,187.00 L290.58,186.99 L290.69,186.98 L290.81,186.97 L290.92,186.96 L291.03,186.96 L291.14,186.95 L291.25,186.94 L291.36,186.93 L291.47,186.92 L291.58,186.92 L291.69,186.91 L291.81,186.90 L291.92,186.89 L292.03,186.88 L292.14,186.88 L292.25,186.87 L292.36,186.86 L292.47,186.85 L292.58,186.84 L292.69,186.83 L292.81,186.83 L292.92,186.82 L293.03,186.81 L293.14,186.80 L293.25,186.79 L293.36,186.78 L293.47,186.77 L293.58,186.76 L293.69,186.76 L293.81,186.75 L293.92,186.74 L294.03,186.73 L294.14,186.72 L294.25,186.71 L294.36,186.70 L294.47,186.69 L294.58,186.69 L294.69,186.68 L294.80,186.67 L294.92,186.66 L295.03,186.65 L295.14,186.64 L295.25,186.63 L295.36,186.62 L295.47,186.61 L295.58,186.60 L295.69,186.59 L295.80,186.58 L295.92,186.58 L296.03,186.57 L296.14,186.56 L296.25,186.55 L296.36,186.54 L296.47,186.53 L296.58,186.52 L296.69,186.51 L296.80,186.50 L296.92,186.49 L297.03,186.48 L297.14,186.47 L297.25,186.46 L297.36,186.45 L297.47,186.44 L297.58,186.43 L297.69,186.42 L297.80,186.41 L297.92,186.40 L298.03,186.39 L298.14,186.38 L298.25,186.37 L298.36,186.36 L298.47,186.35 L298.58,186.34 L298.69,186.33 L298.80,186.32 L298.92,186.31 L299.03,186.30 L299.14,186.29 L299.25,186.28 L299.36,186.27 L299.47,186.26 L299.58,186.25 L299.69,186.24 L299.80,186.23 L299.92,186.22 L300.03,186.21 L300.14,186.19 L300.25,186.18 L300.36,186.17 L300.47,186.16 L300.58,186.15 L300.69,186.14 L300.80,186.13 L300.92,186.12 L301.03,186.11 L301.14,186.10 L301.25,186.09 L301.36,186.07 L301.47,186.06 L301.58,186.05 L301.69,186.04 L301.80,186.03 L301.92,186.02 L302.03,186.01 L302.14,186.00 L302.25,185.98 L302.36,185.97 L302.47,185.96 L302.58,185.95 L302.69,185.94 L302.80,185.93 L302.92,185.91 L303.03,185.90 L303.14,185.89 L303.25,185.88 L303.36,185.87 L303.47,185.86 L303.58,185.84 L303.69,185.83 L303.80,185.82 L303.92,185.81 L304.03,185.80 L304.14,185.78 L304.25,185.77 L304.36,185.76 L304.47,185.75 L304.58,185.73 L304.69,185.72 L304.80,185.71 L304.91,185.70 L305.03,185.68 L305.14,185.67 L305.25,185.66 L305.36,185.65 L305.47,185.63 L305.58,185.62 L305.69,185.61 L305.80,185.60 L305.91,185.58 L306.03,185.57 L306.14,185.56 L306.25,185.54 L306.36,185.53 L306.47,185.52 L306.58,185.51 L306.69,185.49 L306.80,185.48 L306.91,185.47 L307.03,185.45 L307.14,185.44 L307.25,185.43 L307.36,185.41 L307.47,185.40 L307.58,185.38 L307.69,185.37 L307.80,185.36 L307.91,185.34 L308.03,185.33 L308.14,185.32 L308.25,185.30 L308.36,185.29 L308.47,185.27 L308.58,185.26 L308.69,185.25 L308.80,185.23 L308.91,185.22 L309.03,185.20 L309.14,185.19 L309.25,185.18 L309.36,185.16 L309.47,185.15 L309.58,185.13 L309.69,185.12 L309.80,185.10 L309.91,185.09 L310.03,185.07 L310.14,185.06 L310.25,185.04 L310.36,185.03 L310.47,185.01 L310.58,185.00 L310.69,184.98 L310.80,184.97 L310.91,184.95 L311.03,184.94 L311.14,184.92 L311.25,184.91 L311.36,184.89 L311.47,184.88 L311.58,184.86 L311.69,184.85 L311.80,184.83 L311.91,184.82 L312.03,184.80 L312.14,184.79 L312.25,184.77 L312.36,184.75 L312.47,184.74 L312.58,184.72 L312.69,184.71 L312.80,184.69 L312.91,184.67 L313.03,184.66 L313.14,184.64 L313.25,184.63 L313.36,184.61 L313.47,184.59 L313.58,184.58 L313.69,184.56 L313.80,184.54 L313.91,184.53 L314.02,184.51 L314.14,184.49 L314.25,184.48 L314.36,184.46 L314.47,184.44 L314.58,184.43 L314.69,184.41 L314.80,184.39 L314.91,184.37 L315.02,184.36 L315.14,184.34 L315.25,184.32 L315.36,184.31 L315.47,184.29 L315.58,184.27 L315.69,184.25 L315.80,184.24 L315.91,184.22 L316.02,184.20 L316.14,184.18 L316.25,184.16 L316.36,184.15 L316.47,184.13 L316.58,184.11 L316.69,184.09 L316.80,184.07 L316.91,184.06 L317.02,184.04 L317.14,184.02 L317.25,184.00 L317.36,183.98 L317.47,183.96 L317.58,183.94 L317.69,183.93 L317.80,183.91 L317.91,183.89 L318.02,183.87 L318.14,183.85 L318.25,183.83 L318.36,183.81 L318.47,183.79 L318.58,183.77 L318.69,183.75 L318.80,183.73 L318.91,183.72 L319.02,183.70 L319.14,183.68 L319.25,183.66 L319.36,183.64 L319.47,183.62 L319.58,183.60 L319.69,183.58 L319.80,183.56 L319.91,183.54 L320.02,183.52 L320.14,183.50 L320.25,183.48 L320.36,183.46 L320.47,183.44 L320.58,183.41 L320.69,183.39 L320.80,183.37 L320.91,183.35 L321.02,183.33 L321.14,183.31 L321.25,183.29 L321.36,183.27 L321.47,183.25 L321.58,183.23 L321.69,183.21 L321.80,183.18 L321.91,183.16 L322.02,183.14 L322.14,183.12 L322.25,183.10 L322.36,183.08 L322.47,183.05 L322.58,183.03 L322.69,183.01 L322.80,182.99 L322.91,182.97 L323.02,182.94 L323.13,182.92 L323.25,182.90 L323.36,182.88 L323.47,182.85 L323.58,182.83 L323.69,182.81 L323.80,182.79 L323.91,182.76 L324.02,182.74 L324.13,182.72 L324.25,182.69 L324.36,182.67 L324.47,182.65 L324.58,182.63 L324.69,182.60 L324.80,182.58 L324.91,182.55 L325.02,182.53 L325.13,182.51 L325.25,182.48 L325.36,182.46 L325.47,182.44 L325.58,182.41 L325.69,182.39 L325.80,182.36 L325.91,182.34 L326.02,182.31 L326.13,182.29 L326.25,182.27 L326.36,182.24 L326.47,182.22 L326.58,182.19 L326.69,182.17 L326.80,182.14 L326.91,182.12 L327.02,182.09 L327.13,182.07 L327.25,182.04 L327.36,182.01 L327.47,181.99 L327.58,181.96 L327.69,181.94 L327.80,181.91 L327.91,181.89 L328.02,181.86 L328.13,181.83 L328.25,181.81 L328.36,181.78 L328.47,181.75 L328.58,181.73 L328.69,181.70 L328.80,181.67 L328.91,181.65 L329.02,181.62 L329.13,181.59 L329.25,181.57 L329.36,181.54 L329.47,181.51 L329.58,181.48 L329.69,181.46 L329.80,181.43 L329.91,181.40 L330.02,181.37 L330.13,181.35 L330.25,181.32 L330.36,181.29 L330.47,181.26 L330.58,181.23 L330.69,181.21 L330.80,181.18 L330.91,181.15 L331.02,181.12 L331.13,181.09 L331.25,181.06 L331.36,181.03 L331.47,181.00 L331.58,180.98 L331.69,180.95 L331.80,180.92 L331.91,180.89 L332.02,180.86 L332.13,180.83 L332.24,180.80 L332.36,180.77 L332.47,180.74 L332.58,180.71 L332.69,180.68 L332.80,180.65 L332.91,180.62 L333.02,180.59 L333.13,180.56 L333.24,180.52 L333.36,180.49 L333.47,180.46 L333.58,180.43 L333.69,180.40 L333.80,180.37 L333.91,180.34 L334.02,180.31 L334.13,180.27 L334.24,180.24 L334.36,180.21 L334.47,180.18 L334.58,180.15 L334.69,180.11 L334.80,180.08 L334.91,180.05 L335.02,180.02 L335.13,179.98 L335.24,179.95 L335.36,179.92 L335.47,179.89 L335.58,179.85 L335.69,179.82 L335.80,179.79 L335.91,179.75 L336.02,179.72 L336.13,179.69 L336.24,179.65 L336.36,179.62 L336.47,179.58 L336.58,179.55 L336.69,179.51 L336.80,179.48 L336.91,179.45 L337.02,179.41 L337.13,179.38 L337.24,179.34 L337.36,179.31 L337.47,179.27 L337.58,179.24 L337.69,179.20 L337.80,179.16 L337.91,179.13 L338.02,179.09 L338.13,179.06 L338.24,179.02 L338.36,178.98 L338.47,178.95 L338.58,178.91 L338.69,178.88 L338.80,178.84 L338.91,178.80 L339.02,178.76 L339.13,178.73 L339.24,178.69 L339.36,178.65 L339.47,178.62 L339.58,178.58 L339.69,178.54 L339.80,178.50 L339.91,178.46 L340.02,178.43 L340.13,178.39 L340.24,178.35 L340.36,178.31 L340.47,178.27 L340.58,178.23 L340.69,178.19 L340.80,178.15 L340.91,178.12 L341.02,178.08 L341.13,178.04 L341.24,178.00 L341.36,177.96 L341.47,177.92 L341.58,177.88 L341.69,177.84 L341.80,177.80 L341.91,177.76 L342.02,177.71 L342.13,177.67 L342.24,177.63 L342.35,177.59 L342.47,177.55 L342.58,177.51 L342.69,177.47 L342.80,177.43 L342.91,177.38 L343.02,177.34 L343.13,177.30 L343.24,177.26 L343.35,177.21 L343.47,177.17 L343.58,177.13 L343.69,177.09 L343.80,177.04 L343.91,177.00 L344.02,176.96 L344.13,176.91 L344.24,176.87 L344.35,176.83 L344.47,176.78 L344.58,176.74 L344.69,176.69 L344.80,176.65 L344.91,176.60 L345.02,176.56 L345.13,176.51 L345.24,176.47 L345.35,176.42 L345.47,176.38 L345.58,176.33 L345.69,176.29 L345.80,176.24 L345.91,176.19 L346.02,176.15 L346.13,176.10 L346.24,176.06 L346.35,176.01 L346.47,175.96 L346.58,175.91 L346.69,175.87 L346.80,175.82 L346.91,175.77 L347.02,175.72 L347.13,175.68 L347.24,175.63 L347.35,175.58 L347.47,175.53 L347.58,175.48 L347.69,175.43 L347.80,175.39 L347.91,175.34 L348.02,175.29 L348.13,175.24 L348.24,175.19 L348.35,175.14 L348.47,175.09 L348.58,175.04 L348.69,174.99 L348.80,174.94 L348.91,174.89 L349.02,174.84 L349.13,174.78 L349.24,174.73 L349.35,174.68 L349.47,174.63 L349.58,174.58 L349.69,174.53 L349.80,174.47 L349.91,174.42 L350.02,174.37 L350.13,174.32 L350.24,174.26 L350.35,174.21 L350.47,174.16 L350.58,174.10 L350.69,174.05 L350.80,174.00 L350.91,173.94 L351.02,173.89 L351.13,173.83 L351.24,173.78 L351.35,173.72 L351.46,173.67 L351.58,173.61 L351.69,173.56 L351.80,173.50 L351.91,173.45 L352.02,173.39 L352.13,173.33 L352.24,173.28 L352.35,173.22 L352.46,173.16 L352.58,173.11 L352.69,173.05 L352.80,172.99 L352.91,172.93 L353.02,172.88 L353.13,172.82 L353.24,172.76 L353.35,172.70 L353.46,172.64 L353.58,172.58 L353.69,172.53 L353.80,172.47 L353.91,172.41 L354.02,172.35 L354.13,172.29 L354.24,172.23 L354.35,172.17 L354.46,172.11 L354.58,172.04 L354.69,171.98 L354.80,171.92 L354.91,171.86 L355.02,171.80 L355.13,171.74 L355.24,171.68 L355.35,171.61 L355.46,171.55 L355.58,171.49 L355.69,171.42 L355.80,171.36 L355.91,171.30 L356.02,171.23 L356.13,171.17 L356.24,171.11 L356.35,171.04 L356.46,170.98 L356.58,170.91 L356.69,170.85 L356.80,170.78 L356.91,170.72 L357.02,170.65 L357.13,170.59 L357.24,170.52 L357.35,170.45 L357.46,170.39 L357.58,170.32 L357.69,170.25 L357.80,170.18 L357.91,170.12 L358.02,170.05 L358.13,169.98 L358.24,169.91 L358.35,169.84 L358.46,169.78 L358.58,169.71 L358.69,169.64 L358.80,169.57 L358.91,169.50 L359.02,169.43 L359.13,169.36 L359.24,169.29 L359.35,169.22 L359.46,169.14 L359.58,169.07 L359.69,169.00 L359.80,168.93 L359.91,168.86 L360.02,168.79 L360.13,168.71 L360.24,168.64 L360.35,168.57 L360.46,168.49 L360.57,168.42 L360.69,168.35 L360.80,168.27 L360.91,168.20 L361.02,168.12 L361.13,168.05 L361.24,167.97 L361.35,167.90 L361.46,167.82 L361.57,167.75 L361.69,167.67 L361.80,167.59 L361.91,167.52 L362.02,167.44 L362.13,167.36 L362.24,167.28 L362.35,167.21 L362.46,167.13 L362.57,167.05 L362.69,166.97 L362.80,166.89 L362.91,166.81 L363.02,166.73 L363.13,166.65 L363.24,166.57 L363.35,166.49 L363.46,166.41 L363.57,166.33 L363.69,166.25 L363.80,166.17 L363.91,166.09 L364.02,166.00 L364.13,165.92 L364.24,165.84 L364.35,165.75 L364.46,165.67 L364.57,165.59 L364.69,165.50 L364.80,165.42 L364.91,165.34 L365.02,165.25 L365.13,165.17 L365.24,165.08 L365.35,164.99 L365.46,164.91 L365.57,164.82 L365.69,164.73 L365.80,164.65 L365.91,164.56 L366.02,164.47 L366.13,164.38 L366.24,164.30 L366.35,164.21 L366.46,164.12 L366.57,164.03 L366.69,163.94 L366.80,163.85 L366.91,163.76 L367.02,163.67 L367.13,163.58 L367.24,163.49 L367.35,163.40 L367.46,163.31 L367.57,163.21 L367.69,163.12 L367.80,163.03 L367.91,162.94 L368.02,162.84 L368.13,162.75 L368.24,162.65 L368.35,162.56 L368.46,162.46 L368.57,162.37 L368.69,162.27 L368.80,162.18 L368.91,162.08 L369.02,161.99 L369.13,161.89 L369.24,161.79 L369.35,161.69 L369.46,161.60 L369.57,161.50 L369.68,161.40 L369.80,161.30 L369.91,161.20 L370.02,161.10 L370.13,161.00 L370.24,160.90 L370.35,160.80 L370.46,160.70 L370.57,160.60 L370.68,160.50 L370.80,160.40 L370.91,160.29 L371.02,160.19 L371.13,160.09 L371.24,159.98 L371.35,159.88 L371.46,159.78 L371.57,159.67 L371.68,159.57 L371.80,159.46 L371.91,159.36 L372.02,159.25 L372.13,159.14 L372.24,159.04 L372.35,158.93 L372.46,158.82 L372.57,158.71 L372.68,158.61 L372.80,158.50 L372.91,158.39 L373.02,158.28 L373.13,158.17 L373.24,158.06 L373.35,157.95 L373.46,157.84 L373.57,157.72 L373.68,157.61 L373.80,157.50 L373.91,157.39 L374.02,157.27 L374.13,157.16 L374.24,157.05 L374.35,156.93 L374.46,156.82 L374.57,156.70 L374.68,156.59 L374.80,156.47 L374.91,156.35 L375.02,156.24 L375.13,156.12 L375.24,156.00 L375.35,155.89 L375.46,155.77 L375.57,155.65 L375.68,155.53 L375.80,155.41 L375.91,155.29 L376.02,155.17 L376.13,155.05 L376.24,154.93 L376.35,154.80 L376.46,154.68 L376.57,154.56 L376.68,154.44 L376.80,154.31 L376.91,154.19 L377.02,154.06 L377.13,153.94 L377.24,153.81 L377.35,153.69 L377.46,153.56 L377.57,153.43 L377.68,153.31 L377.80,153.18 L377.91,153.05 L378.02,152.92 L378.13,152.79 L378.24,152.67 L378.35,152.54 L378.46,152.41 L378.57,152.27 L378.68,152.14 L378.80,152.01 L378.91,151.88 L379.02,151.75 L379.13,151.61 L379.24,151.48 L379.35,151.35 L379.46,151.21 L379.57,151.08 L379.68,150.94 L379.79,150.80 L379.91,150.67 L380.02,150.53 L380.13,150.39 L380.24,150.26 L380.35,150.12 L380.46,149.98 L380.57,149.84 L380.68,149.70 L380.79,149.56 L380.91,149.42 L381.02,149.28 L381.13,149.13 L381.24,148.99 L381.35,148.85 L381.46,148.71 L381.57,148.56 L381.68,148.42 L381.79,148.27 L381.91,148.13 L382.02,147.98 L382.13,147.83 L382.24,147.69 L382.35,147.54 L382.46,147.39 L382.57,147.24 L382.68,147.09 L382.79,146.94 L382.91,146.79 L383.02,146.64 L383.13,146.49 L383.24,146.34 L383.35,146.19 L383.46,146.03 L383.57,145.88 L383.68,145.73 L383.79,145.57 L383.91,145.42 L384.02,145.26 L384.13,145.11 L384.24,144.95 L384.35,144.79 L384.46,144.63 L384.57,144.48 L384.68,144.32 L384.79,144.16 L384.91,144.00 L385.02,143.84 L385.13,143.68 L385.24,143.51 L385.35,143.35 L385.46,143.19 L385.57,143.02 L385.68,142.86 L385.79,142.70 L385.91,142.53 L386.02,142.36 L386.13,142.20 L386.24,142.03 L386.35,141.86 L386.46,141.70 L386.57,141.53 L386.68,141.36 L386.79,141.19 L386.91,141.02 L387.02,140.84 L387.13,140.67 L387.24,140.50 L387.35,140.33 L387.46,140.15 L387.57,139.98 L387.68,139.80 L387.79,139.63 L387.91,139.45 L388.02,139.28 L388.13,139.10 L388.24,138.92 L388.35,138.74 L388.46,138.56 L388.57,138.38 L388.68,138.20 L388.79,138.02" stroke="#ff0000" stroke-width="1.9" stroke-dasharray="18.0 5.3" stroke-dashoffset="7.80"/>
<path d="M55.50,189.21 L55.78,189.21 L56.06,189.21 L56.33,189.21 L56.61,189.21 L56.89,189.21 L57.17,189.21 L57.44,189.21 L57.72,189.21 L58.00,189.21 L58.28,189.21 L58.56,189.21 L58.83,189.21 L59.11,189.21 L59.39,189.21 L59.67,189.21 L59.94,189.21 L60.22,189.21 L60.50,189.21 L60.78,189.21 L61.05,189.21 L61.33,189.21 L61.61,189.21 L61.89,189.21 L62.17,189.21 L62.44,189.21 L62.72,189.21 L63.00,189.21 L63.28,189.21 L63.55,189.21 L63.83,189.21 L64.11,189.21 L64.39,189.21 L64.67,189.21 L64.94,189.21 L65.22,189.21 L65.50,189.21 L65.78,189.21 L66.05,189.21 L66.33,189.21 L66.61,189.21 L66.89,189.21 L67.17,189.21 L67.44,189.21 L67.72,189.21 L68.00,189.21 L68.28,189.21 L68.55,189.21 L68.83,189.21 L69.11,189.21 L69.39,189.21 L69.66,189.21 L69.94,189.21 L70.22,189.21 L70.50,189.21 L70.78,189.21 L71.05,189.21 L71.33,189.21 L71.61,189.21 L71.89,189.21 L72.16,189.21 L72.44,189.21 L72.72,189.21 L73.00,189.21 L73.28,189.21 L73.55,189.21 L73.83,189.21 L74.11,189.21 L74.39,189.21 L74.66,189.21 L74.94,189.21 L75.22,189.21 L75.50,189.21 L75.78,189.21 L76.05,189.21 L76.33,189.21 L76.61,189.21 L76.89,189.21 L77.16,189.21 L77.44,189.21 L77.72,189.21 L78.00,189.21 L78.28,189.21 L78.55,189.21 L78.83,189.21 L79.11,189.21 L79.39,189.21 L79.66,189.21 L79.94,189.21 L80.22,189.21 L80.50,189.21 L80.77,189.21 L81.05,189.21 L81.33,189.21 L81.61,189.21 L81.89,189.21 L82.16,189.21 L82.44,189.21 L82.72,189.21 L83.00,189.21 L83.27,189.21 L83.55,189.21 L83.83,189.21 L84.11,189.21 L84.39,189.21 L84.66,189.21 L84.94,189.21 L85.22,189.21 L85.50,189.21 L85.77,189.21 L86.05,189.21 L86.33,189.21 L86.61,189.21 L86.89,189.21 L87.16,189.21 L87.44,189.21 L87.72,189.21 L88.00,189.21 L88.27,189.21 L88.55,189.21 L88.83,189.21 L89.11,189.21 L89.38,189.21 L89.66,189.21 L89.94,189.21 L90.22,189.21 L90.50,189.21 L90.77,189.21 L91.05,189.21 L91.33,189.21 L91.61,189.21 L91.88,189.21 L92.16,189.21 L92.44,189.21 L92.72,189.21 L93.00,189.21 L93.27,189.21 L93.55,189.21 L93.83,189.21 L94.11,189.21 L94.38,189.21 L94.66,189.21 L94.94,189.21 L95.22,189.21 L95.50,189.21 L95.77,189.21 L96.05,189.21 L96.33,189.21 L96.61,189.21 L96.88,189.21 L97.16,189.21 L97.44,189.21 L97.72,189.21 L97.99,189.21 L98.27,189.21 L98.55,189.21 L98.83,189.21 L99.11,189.21 L99.38,189.21 L99.66,189.21 L99.94,189.21 L100.22,189.21 L100.49,189.21 L100.77,189.21 L101.05,189.21 L101.33,189.21 L101.61,189.21 L101.88,189.21 L102.16,189.21 L102.44,189.21 L102.72,189.21 L102.99,189.21 L103.27,189.21 L103.55,189.21 L103.83,189.21 L104.11,189.21 L104.38,189.21 L104.66,189.21 L104.94,189.21 L105.22,189.21 L105.49,189.21 L105.77,189.21 L106.05,189.21 L106.33,189.21 L106.61,189.21 L106.88,189.21 L107.16,189.21 L107.44,189.21 L107.72,189.21 L107.99,189.21 L108.27,189.21 L108.55,189.21 L108.83,189.21 L109.10,189.21 L109.38,189.21 L109.66,189.21 L109.94,189.21 L110.22,189.21 L110.49,189.21 L110.77,189.21 L111.05,189.21 L111.33,189.21 L111.60,189.21 L111.88,189.21 L112.16,189.21 L112.44,189.21 L112.72,189.21 L112.99,189.21 L113.27,189.21 L113.55,189.21 L113.83,189.21 L114.10,189.21 L114.38,189.21 L114.66,189.21 L114.94,189.21 L115.22,189.21 L115.49,189.21 L115.77,189.21 L116.05,189.21 L116.33,189.21 L116.60,189.21 L116.88,189.21 L117.16,189.21 L117.44,189.21 L117.71,189.21 L117.99,189.21 L118.27,189.21 L118.55,189.21 L118.83,189.21 L119.10,189.21 L119.38,189.21 L119.66,189.21 L119.94,189.21 L120.21,189.21 L120.49,189.21 L120.77,189.21 L121.05,189.21 L121.33,189.21 L121.60,189.21 L121.88,189.21 L122.16,189.21 L122.44,189.21 L122.71,189.21 L122.99,189.21 L123.27,189.21 L123.55,189.21 L123.83,189.21 L124.10,189.21 L124.38,189.21 L124.66,189.21 L124.94,189.21 L125.21,189.21 L125.49,189.21 L125.77,189.21 L126.05,189.21 L126.32,189.21 L126.60,189.21 L126.88,189.21 L127.16,189.21 L127.44,189.21 L127.71,189.21 L127.99,189.21 L128.27,189.21 L128.55,189.21 L128.82,189.21 L129.10,189.21 L129.38,189.21 L129.66,189.21 L129.94,189.21 L130.21,189.21 L130.49,189.21 L130.77,189.21 L131.05,189.21 L131.32,189.21 L131.60,189.21 L131.88,189.21 L132.16,189.21 L132.44,189.21 L132.71,189.21 L132.99,189.21 L133.27,189.21 L133.55,189.21 L133.82,189.21 L134.10,189.21 L134.38,189.21 L134.66,189.21 L134.94,189.21 L135.21,189.21 L135.49,189.21 L135.77,189.21 L136.05,189.21 L136.32,189.21 L136.60,189.21 L136.88,189.21 L137.16,189.21 L137.43,189.21 L137.71,189.21 L137.99,189.21 L138.27,189.21 L138.55,189.21 L138.82,189.21 L139.10,189.21 L139.38,189.21 L139.66,189.21 L139.93,189.21 L140.21,189.21 L140.49,189.21 L140.77,189.21 L141.05,189.21 L141.32,189.21 L141.60,189.21 L141.88,189.21 L142.16,189.21 L142.43,189.21 L142.71,189.21 L142.99,189.21 L143.27,189.21 L143.55,189.21 L143.82,189.21 L144.10,189.21 L144.38,189.21 L144.66,189.21 L144.93,189.21 L145.21,189.21 L145.49,189.21 L145.77,189.21 L146.04,189.21 L146.32,189.21 L146.60,189.21 L146.88,189.21 L147.16,189.21 L147.43,189.21 L147.71,189.21 L147.99,189.21 L148.27,189.21 L148.54,189.21 L148.82,189.21 L149.10,189.21 L149.38,189.21 L149.66,189.21 L149.93,189.21 L150.21,189.21 L150.49,189.21 L150.77,189.21 L151.04,189.21 L151.32,189.21 L151.60,189.21 L151.88,189.21 L152.16,189.21 L152.43,189.21 L152.71,189.21 L152.99,189.21 L153.27,189.21 L153.54,189.21 L153.82,189.21 L154.10,189.21 L154.38,189.21 L154.65,189.21 L154.93,189.21 L155.21,189.21 L155.49,189.21 L155.77,189.21 L156.04,189.21 L156.32,189.21 L156.60,189.21 L156.88,189.21 L157.15,189.21 L157.43,189.21 L157.71,189.21 L157.99,189.21 L158.27,189.21 L158.54,189.21 L158.82,189.21 L159.10,189.21 L159.38,189.21 L159.65,189.21 L159.93,189.21 L160.21,189.21 L160.49,189.21 L160.77,189.21 L161.04,189.21 L161.32,189.21 L161.60,189.21 L161.88,189.21 L162.15,189.21 L162.43,189.21 L162.71,189.21 L162.99,189.21 L163.27,189.21 L163.54,189.21 L163.82,189.21 L164.10,189.21 L164.38,189.21 L164.65,189.21 L164.93,189.21 L165.21,189.21 L165.49,189.21 L165.76,189.21 L166.04,189.21 L166.32,189.21 L166.60,189.21 L166.88,189.21 L167.15,189.21 L167.43,189.21 L167.71,189.21 L167.99,189.21 L168.26,189.21 L168.54,189.21 L168.82,189.21 L169.10,189.21 L169.38,189.21 L169.65,189.21 L169.93,189.21 L170.21,189.21 L170.49,189.21 L170.76,189.21 L171.04,189.21 L171.32,189.21 L171.60,189.21 L171.88,189.21 L172.15,189.21 L172.43,189.21 L172.71,189.21 L172.99,189.21 L173.26,189.21 L173.54,189.21 L173.82,189.21 L174.10,189.21 L174.37,189.21 L174.65,189.21 L174.93,189.21 L175.21,189.21 L175.49,189.21 L175.76,189.21 L176.04,189.21 L176.32,189.21 L176.60,189.21 L176.87,189.21 L177.15,189.21 L177.43,189.21 L177.71,189.21 L177.99,189.21 L178.26,189.21 L178.54,189.21 L178.82,189.21 L179.10,189.21 L179.37,189.21 L179.65,189.21 L179.93,189.21 L180.21,189.21 L180.49,189.21 L180.76,189.21 L181.04,189.21 L181.32,189.21 L181.60,189.21 L181.87,189.21 L182.15,189.21 L182.43,189.21 L182.71,189.21 L182.98,189.21 L183.26,189.21 L183.54,189.21 L183.82,189.21 L184.10,189.21 L184.37,189.21 L184.65,189.21 L184.93,189.21 L185.21,189.21 L185.48,189.21 L185.76,189.21 L186.04,189.21 L186.32,189.21 L186.60,189.21 L186.87,189.21 L187.15,189.21 L187.43,189.21 L187.71,189.21 L187.98,189.21 L188.26,189.21 L188.54,189.21 L188.82,189.21 L189.10,189.21 L189.37,189.21 L189.65,189.21 L189.93,189.21 L190.21,189.21 L190.48,189.21 L190.76,189.21 L191.04,189.21 L191.32,189.20 L191.59,189.20 L191.87,189.20 L192.15,189.20 L192.43,189.20 L192.71,189.20 L192.98,189.20 L193.26,189.20 L193.54,189.20 L193.82,189.20 L194.09,189.20 L194.37,189.20 L194.65,189.20 L194.93,189.20 L195.21,189.20 L195.48,189.20 L195.76,189.20 L196.04,189.20 L196.32,189.20 L196.59,189.20 L196.87,189.20 L197.15,189.20 L197.43,189.20 L197.71,189.20 L197.98,189.20 L198.26,189.20 L198.54,189.20 L198.82,189.20 L199.09,189.20 L199.37,189.20 L199.65,189.20 L199.93,189.20 L200.21,189.20 L200.48,189.20 L200.76,189.20 L201.04,189.20 L201.32,189.20 L201.59,189.20 L201.87,189.20 L202.15,189.20 L202.43,189.20 L202.70,189.20 L202.98,189.20 L203.26,189.20 L203.54,189.20 L203.82,189.20 L204.09,189.20 L204.37,189.20 L204.65,189.20 L204.93,189.20 L205.20,189.20 L205.48,189.20 L205.76,189.20 L206.04,189.20 L206.32,189.20 L206.59,189.20 L206.87,189.20 L207.15,189.20 L207.43,189.20 L207.70,189.20 L207.98,189.20 L208.26,189.20 L208.54,189.20 L208.82,189.20 L209.09,189.20 L209.37,189.20 L209.65,189.20 L209.93,189.20 L210.20,189.20 L210.48,189.20 L210.76,189.20 L211.04,189.20 L211.31,189.20 L211.59,189.20 L211.87,189.20 L212.15,189.20 L212.43,189.20 L212.70,189.20 L212.98,189.20 L213.26,189.20 L213.54,189.20 L213.81,189.20 L214.09,189.20 L214.37,189.19 L214.65,189.19 L214.93,189.19 L215.20,189.19 L215.48,189.19 L215.76,189.19 L216.04,189.19 L216.31,189.19 L216.59,189.19 L216.87,189.19 L217.15,189.19 L217.43,189.19 L217.70,189.19 L217.98,189.19 L218.26,189.19 L218.54,189.19 L218.81,189.19 L219.09,189.19 L219.37,189.19 L219.65,189.19 L219.92,189.19 L220.20,189.19 L220.48,189.19 L220.76,189.19 L221.04,189.19 L221.31,189.19 L221.59,189.19 L221.87,189.19 L222.15,189.19 L222.42,189.19 L222.70,189.19 L222.98,189.19 L223.26,189.19 L223.54,189.19 L223.81,189.19 L224.09,189.19 L224.37,189.19 L224.65,189.19 L224.92,189.19 L225.20,189.19 L225.48,189.19 L225.76,189.19 L226.04,189.19 L226.31,189.19 L226.59,189.19 L226.87,189.19 L227.15,189.19 L227.42,189.18 L227.70,189.18 L227.98,189.18 L228.26,189.18 L228.54,189.18 L228.81,189.18 L229.09,189.18 L229.37,189.18 L229.65,189.18 L229.92,189.18 L230.20,189.18 L230.48,189.18 L230.76,189.18 L231.03,189.18 L231.31,189.18 L231.59,189.18 L231.87,189.18 L232.15,189.18 L232.42,189.18 L232.70,189.18 L232.98,189.18 L233.26,189.18 L233.53,189.18 L233.81,189.18 L234.09,189.18 L234.37,189.18 L234.65,189.18 L234.92,189.18 L235.20,189.18 L235.48,189.18 L235.76,189.18 L236.03,189.18 L236.31,189.18 L236.59,189.17 L236.87,189.17 L237.15,189.17 L237.42,189.17 L237.70,189.17 L237.98,189.17 L238.26,189.17 L238.53,189.17 L238.81,189.17 L239.09,189.17 L239.37,189.17 L239.64,189.17 L239.92,189.17 L240.20,189.17 L240.48,189.17 L240.76,189.17 L241.03,189.17 L241.31,189.17 L241.59,189.17 L241.87,189.17 L242.14,189.17 L242.42,189.17 L242.70,189.17 L242.98,189.17 L243.26,189.17 L243.53,189.16 L243.81,189.16 L244.09,189.16 L244.37,189.16 L244.64,189.16 L244.92,189.16 L245.20,189.16 L245.48,189.16 L245.76,189.16 L246.03,189.16 L246.31,189.16 L246.59,189.16 L246.87,189.16 L247.14,189.16 L247.42,189.16 L247.70,189.16 L247.98,189.16 L248.25,189.16 L248.53,189.16 L248.81,189.16 L249.09,189.16 L249.37,189.15 L249.64,189.15 L249.92,189.15 L250.20,189.15 L250.48,189.15 L250.75,189.15 L251.03,189.15 L251.31,189.15 L251.59,189.15 L251.87,189.15 L252.14,189.15 L252.42,189.15 L252.70,189.15 L252.98,189.15 L253.25,189.15 L253.53,189.15 L253.81,189.15 L254.09,189.15 L254.37,189.14 L254.64,189.14 L254.92,189.14 L255.20,189.14 L255.48,189.14 L255.75,189.14 L256.03,189.14 L256.31,189.14 L256.59,189.14 L256.87,189.14 L257.14,189.14 L257.42,189.14 L257.70,189.14 L257.98,189.14 L258.25,189.14 L258.53,189.13 L258.81,189.13 L259.09,189.13 L259.36,189.13 L259.64,189.13 L259.92,189.13 L260.20,189.13 L260.48,189.13 L260.75,189.13 L261.03,189.13 L261.31,189.13 L261.59,189.13 L261.86,189.13 L262.14,189.12 L262.42,189.12 L262.70,189.12 L262.98,189.12 L263.25,189.12 L263.53,189.12 L263.81,189.12 L264.09,189.12 L264.36,189.12 L264.64,189.12 L264.92,189.12 L265.20,189.12 L265.48,189.11 L265.75,189.11 L266.03,189.11 L266.31,189.11 L266.59,189.11 L266.86,189.11 L267.14,189.11 L267.42,189.11 L267.70,189.11 L267.97,189.11 L268.25,189.11 L268.53,189.10 L268.81,189.10 L269.09,189.10 L269.36,189.10 L269.64,189.10 L269.92,189.10 L270.20,189.10 L270.47,189.10 L270.75,189.10 L271.03,189.10 L271.31,189.09 L271.59,189.09 L271.86,189.09 L272.14,189.09 L272.42,189.09 L272.70,189.09 L272.97,189.09 L273.25,189.09 L273.53,189.09 L273.81,189.08 L274.09,189.08 L274.36,189.08 L274.64,189.08 L274.92,189.08 L275.20,189.08 L275.47,189.08 L275.75,189.08 L276.03,189.08 L276.31,189.07 L276.58,189.07 L276.86,189.07 L277.14,189.07 L277.42,189.07 L277.70,189.07 L277.97,189.07 L278.25,189.06 L278.53,189.06 L278.81,189.06 L279.08,189.06 L279.36,189.06 L279.64,189.06 L279.92,189.06 L280.20,189.06 L280.47,189.05 L280.75,189.05 L281.03,189.05 L281.31,189.05 L281.58,189.05 L281.86,189.05 L282.14,189.05 L282.42,189.04 L282.70,189.04 L282.97,189.04 L283.25,189.04 L283.53,189.04 L283.81,189.04 L284.08,189.03 L284.36,189.03 L284.64,189.03 L284.92,189.03 L285.20,189.03 L285.47,189.03 L285.75,189.02 L286.03,189.02 L286.31,189.02 L286.58,189.02 L286.86,189.02 L287.14,189.02 L287.42,189.01 L287.69,189.01 L287.97,189.01 L288.25,189.01 L288.53,189.01 L288.81,189.01 L289.08,189.00 L289.36,189.00 L289.64,189.00 L289.92,189.00 L290.19,189.00 L290.47,188.99 L290.75,188.99 L291.03,188.99 L291.31,188.99 L291.58,188.99 L291.86,188.98 L292.14,188.98 L292.42,188.98 L292.69,188.98 L292.97,188.98 L293.25,188.97 L293.53,188.97 L293.81,188.97 L294.08,188.97 L294.36,188.96 L294.64,188.96 L294.92,188.96 L295.19,188.96 L295.47,188.96 L295.75,188.95 L296.03,188.95 L296.30,188.95 L296.58,188.95 L296.86,188.94 L297.14,188.94 L297.42,188.94 L297.69,188.94 L297.97,188.93 L298.25,188.93 L298.53,188.93 L298.80,188.93 L299.08,188.92 L299.36,188.92 L299.64,188.92 L299.92,188.92 L300.19,188.91 L300.47,188.91 L300.75,188.91 L301.03,188.91 L301.30,188.90 L301.58,188.90 L301.86,188.90 L302.14,188.89 L302.42,188.89 L302.69,188.89 L302.97,188.89 L303.25,188.88 L303.53,188.88 L303.80,188.88 L304.08,188.87 L304.36,188.87 L304.64,188.87 L304.91,188.86 L305.19,188.86 L305.47,188.86 L305.75,188.85 L306.03,188.85 L306.30,188.85 L306.58,188.85 L306.86,188.84 L307.14,188.84 L307.41,188.84 L307.69,188.83 L307.97,188.83 L308.25,188.82 L308.53,188.82 L308.80,188.82 L309.08,188.81 L309.36,188.81 L309.64,188.81 L309.91,188.80 L310.19,188.80 L310.47,188.80 L310.75,188.79 L311.03,188.79 L311.30,188.79 L311.58,188.78 L311.86,188.78 L312.14,188.77 L312.41,188.77 L312.69,188.77 L312.97,188.76 L313.25,188.76 L313.52,188.75 L313.80,188.75 L314.08,188.75 L314.36,188.74 L314.64,188.74 L314.91,188.73 L315.19,188.73 L315.47,188.72 L315.75,188.72 L316.02,188.72 L316.30,188.71 L316.58,188.71 L316.86,188.70 L317.14,188.70 L317.41,188.69 L317.69,188.69 L317.97,188.68 L318.25,188.68 L318.52,188.67 L318.80,188.67 L319.08,188.66 L319.36,188.66 L319.64,188.65 L319.91,188.65 L320.19,188.64 L320.47,188.64 L320.75,188.63 L321.02,188.63 L321.30,188.62 L321.58,188.62 L321.86,188.61 L322.14,188.61 L322.41,188.60 L322.69,188.60 L322.97,188.59 L323.25,188.59 L323.52,188.58 L323.80,188.57 L324.08,188.57 L324.36,188.56 L324.63,188.56 L324.91,188.55 L325.19,188.55 L325.47,188.54 L325.75,188.53 L326.02,188.53 L326.30,188.52 L326.58,188.52 L326.86,188.51 L327.13,188.50 L327.41,188.50 L327.69,188.49 L327.97,188.48 L328.25,188.48 L328.52,188.47 L328.80,188.46 L329.08,188.46 L329.36,188.45 L329.63,188.44 L329.91,188.44 L330.19,188.43 L330.47,188.42 L330.75,188.42 L331.02,188.41 L331.30,188.40 L331.58,188.39 L331.86,188.39 L332.13,188.38 L332.41,188.37 L332.69,188.36 L332.97,188.36 L333.24,188.35 L333.52,188.34 L333.80,188.33 L334.08,188.33 L334.36,188.32 L334.63,188.31 L334.91,188.30 L335.19,188.29 L335.47,188.29 L335.74,188.28 L336.02,188.27 L336.30,188.26 L336.58,188.25 L336.86,188.24 L337.13,188.24 L337.41,188.23 L337.69,188.22 L337.97,188.21 L338.24,188.20 L338.52,188.19 L338.80,188.18 L339.08,188.17 L339.36,188.16 L339.63,188.15 L339.91,188.14 L340.19,188.13 L340.47,188.13 L340.74,188.12 L341.02,188.11 L341.30,188.10 L341.58,188.09 L341.85,188.08 L342.13,188.07 L342.41,188.06 L342.69,188.05 L342.97,188.03 L343.24,188.02 L343.52,188.01 L343.80,188.00 L344.08,187.99 L344.35,187.98 L344.63,187.97 L344.91,187.96 L345.19,187.95 L345.47,187.94 L345.74,187.93 L346.02,187.91 L346.30,187.90 L346.58,187.89 L346.85,187.88 L347.13,187.87 L347.41,187.85 L347.69,187.84 L347.97,187.83 L348.24,187.82 L348.52,187.81 L348.80,187.79 L349.08,187.78 L349.35,187.77 L349.63,187.76 L349.91,187.74 L350.19,187.73 L350.47,187.72 L350.74,187.70 L351.02,187.69 L351.30,187.68 L351.58,187.66 L351.85,187.65 L352.13,187.63 L352.41,187.62 L352.69,187.61 L352.96,187.59 L353.24,187.58 L353.52,187.56 L353.80,187.55 L354.08,187.53 L354.35,187.52 L354.63,187.50 L354.91,187.49 L355.19,187.47 L355.46,187.46 L355.74,187.44 L356.02,187.42 L356.30,187.41 L356.58,187.39 L356.85,187.38 L357.13,187.36 L357.41,187.34 L357.69,187.33 L357.96,187.31 L358.24,187.29 L358.52,187.28 L358.80,187.26 L359.08,187.24 L359.35,187.22 L359.63,187.21 L359.91,187.19 L360.19,187.17 L360.46,187.15 L360.74,187.13 L361.02,187.12 L361.30,187.10 L361.57,187.08 L361.85,187.06 L362.13,187.04 L362.41,187.02 L362.69,187.00 L362.96,186.98 L363.24,186.96 L363.52,186.94 L363.80,186.92 L364.07,186.90 L364.35,186.88 L364.63,186.86 L364.91,186.84 L365.19,186.82 L365.46,186.80 L365.74,186.77 L366.02,186.75 L366.30,186.73 L366.57,186.71 L366.85,186.69 L367.13,186.66 L367.41,186.64 L367.69,186.62 L367.96,186.59 L368.24,186.57 L368.52,186.55 L368.80,186.52 L369.07,186.50 L369.35,186.48 L369.63,186.45 L369.91,186.43 L370.18,186.40 L370.46,186.38 L370.74,186.35 L371.02,186.33 L371.30,186.30 L371.57,186.27 L371.85,186.25 L372.13,186.22 L372.41,186.19 L372.68,186.17 L372.96,186.14 L373.24,186.11 L373.52,186.09 L373.80,186.06 L374.07,186.03 L374.35,186.00 L374.63,185.97 L374.91,185.94 L375.18,185.91 L375.46,185.89 L375.74,185.86 L376.02,185.83 L376.30,185.80 L376.57,185.77 L376.85,185.73 L377.13,185.70 L377.41,185.67 L377.68,185.64 L377.96,185.61 L378.24,185.58 L378.52,185.54 L378.80,185.51 L379.07,185.48 L379.35,185.45 L379.63,185.41 L379.91,185.38 L380.18,185.34 L380.46,185.31 L380.74,185.27 L381.02,185.24 L381.29,185.20 L381.57,185.17 L381.85,185.13 L382.13,185.10 L382.41,185.06 L382.68,185.02 L382.96,184.99 L383.24,184.95 L383.52,184.91 L383.79,184.87 L384.07,184.83 L384.35,184.79 L384.63,184.75 L384.91,184.71 L385.18,184.67 L385.46,184.63 L385.74,184.59 L386.02,184.55 L386.29,184.51 L386.57,184.47 L386.85,184.43 L387.13,184.38 L387.41,184.34 L387.68,184.30 L387.96,184.25 L388.24,184.21 L388.52,184.16 L388.79,184.12" stroke="#000" stroke-width="2.6" stroke-linecap="square"/>
</g>
</svg>
<div class="yl" style="top:210.6px">−0.05</div><div class="yl" style="top:181.3px">0.00</div><div class="yl" style="top:152.0px">0.05</div><div class="yl" style="top:122.7px">0.10</div><div class="yl" style="top:93.5px">0.15</div><div class="yl" style="top:64.2px">0.20</div><div class="yl" style="top:34.9px">0.25</div><div class="yl" style="top:5.6px">0.30</div><div class="xl" style="left:35.8px">0.001</div><div class="xl" style="left:79.2px">0.002</div><div class="xl" style="left:136.6px">0.005</div><div class="xl" style="left:180.0px">0.010</div><div class="xl" style="left:223.5px">0.020</div><div class="xl" style="left:280.9px">0.050</div><div class="xl" style="left:324.3px">0.100</div><div class="xl" style="left:368.4px">0.200</div>
<div class="t" style="left:0px;top:108.5px;font-size:10.4px">ΔP/P</div>
<div class="t" style="left:198.5px;top:239.1px;font-size:10px">k h(Mpc<sup>−1</sup>)</div>
</div></body></html>
